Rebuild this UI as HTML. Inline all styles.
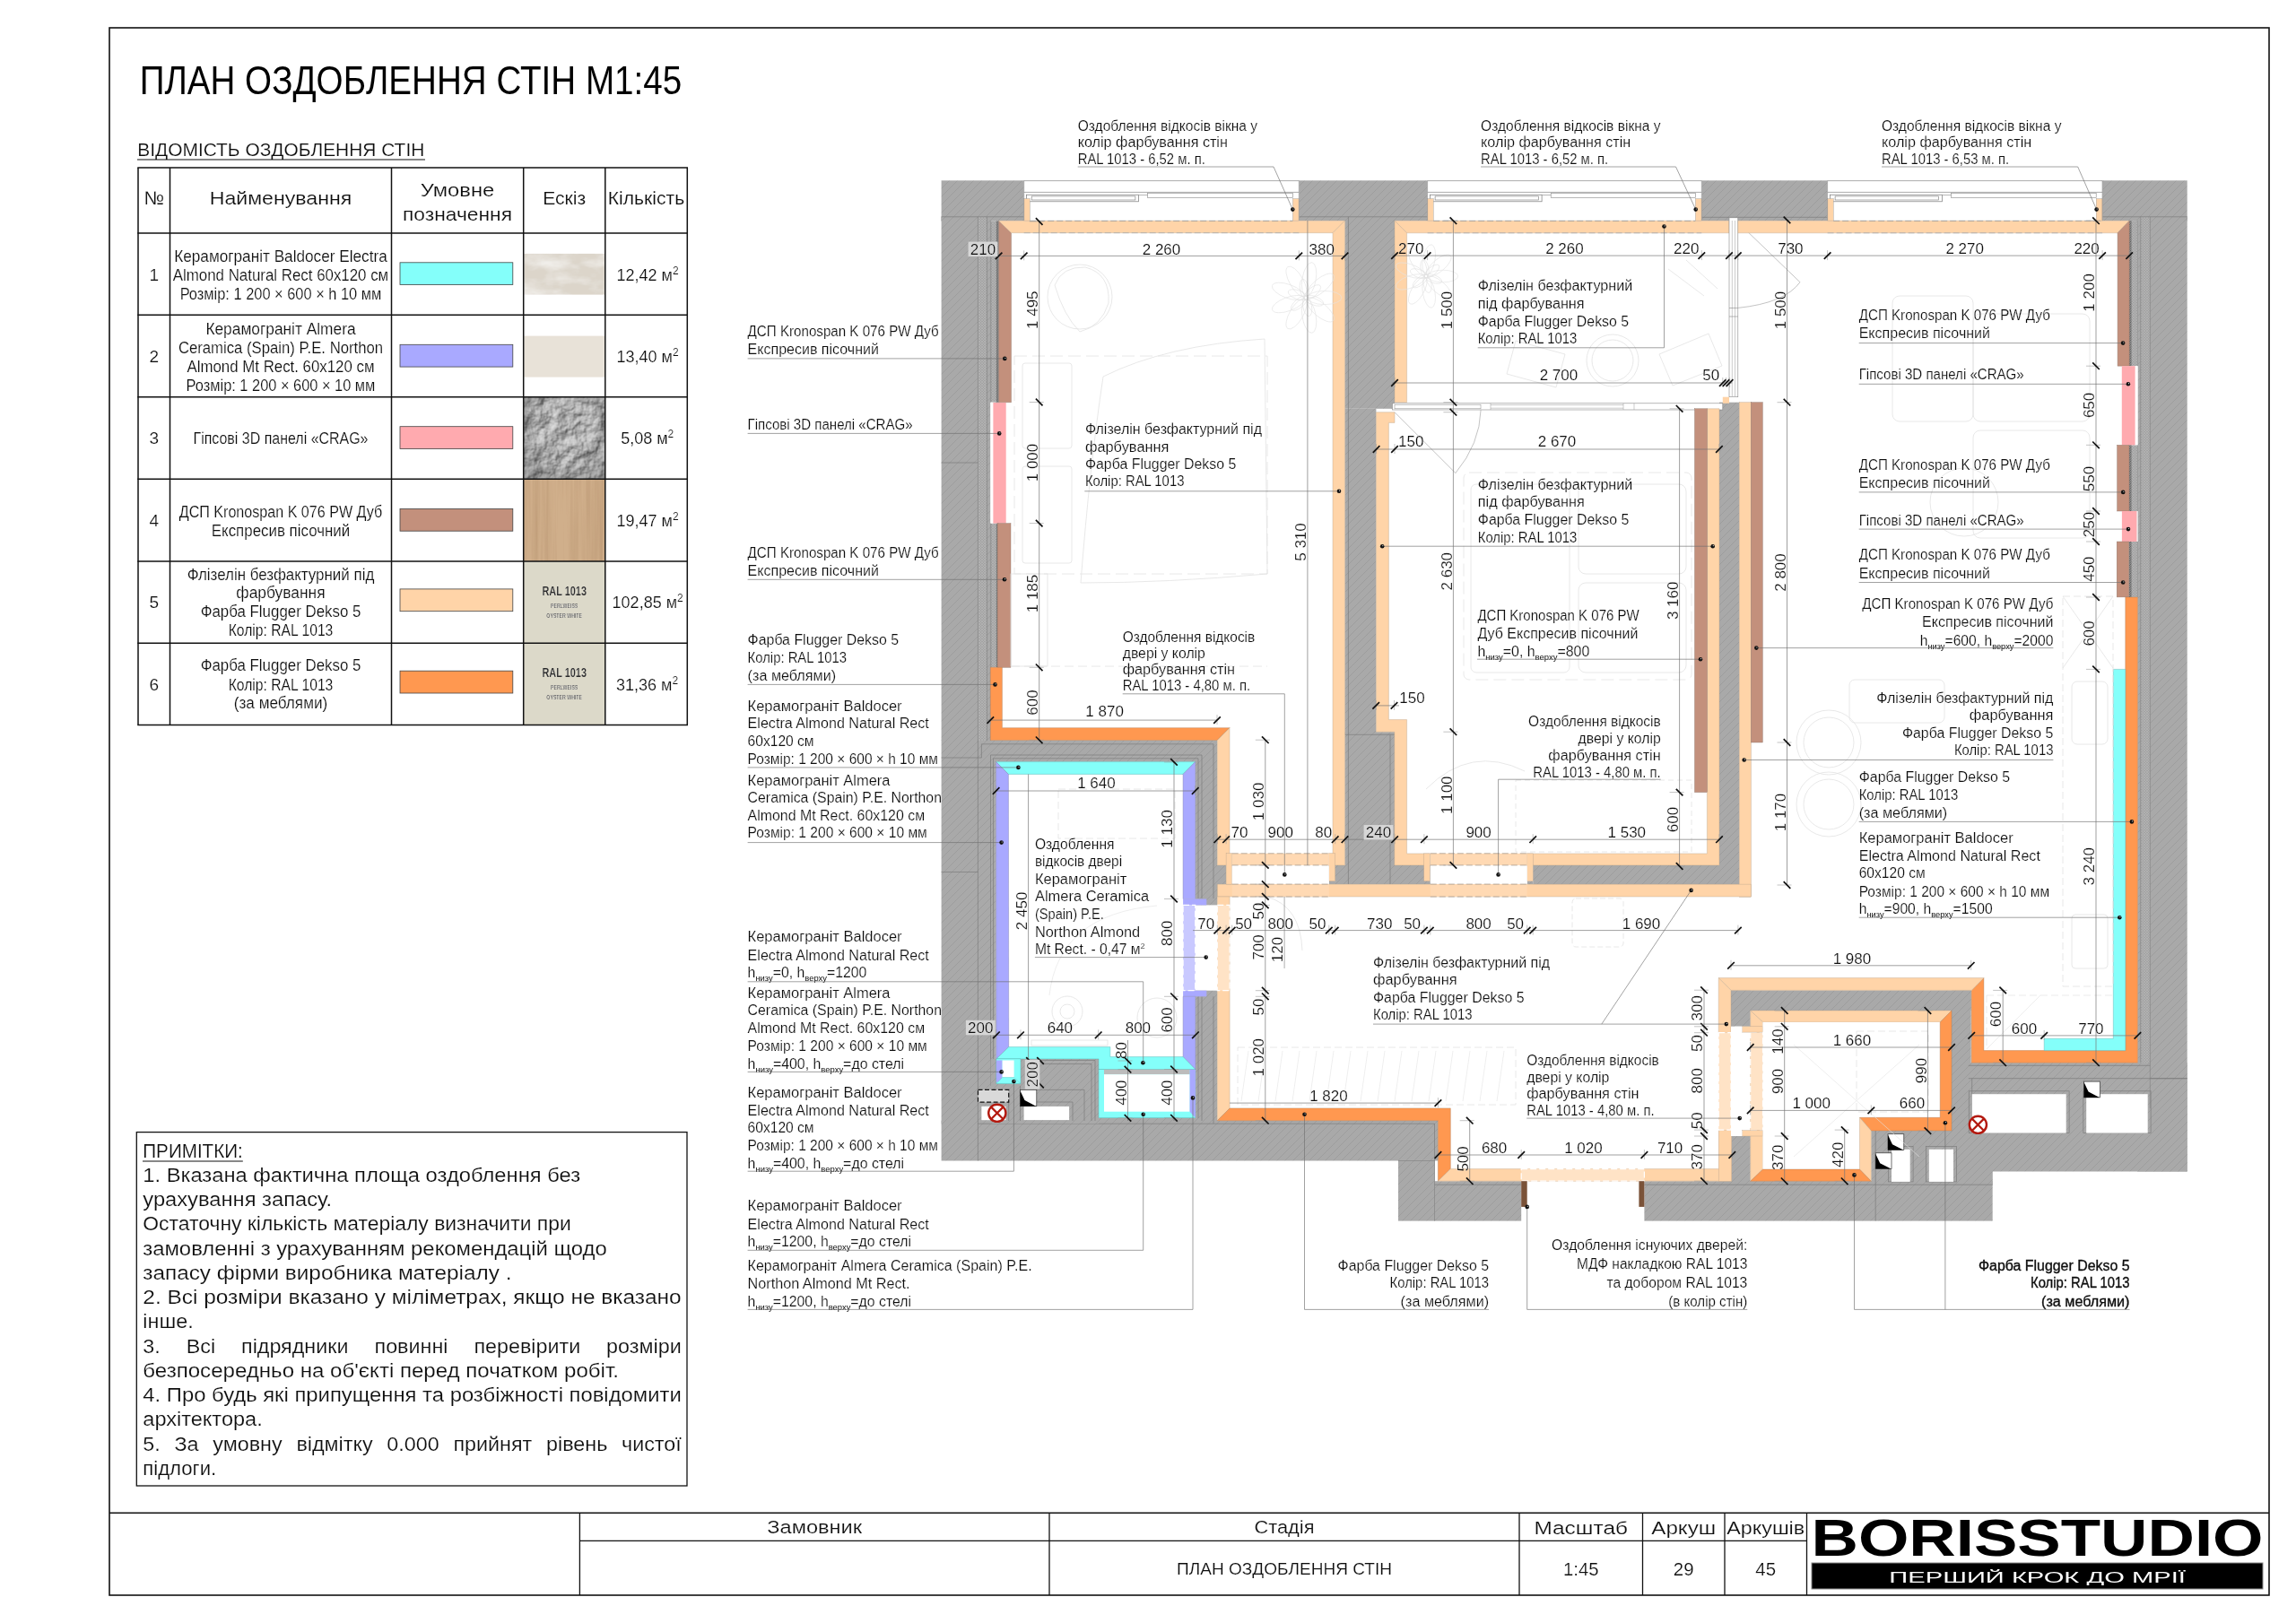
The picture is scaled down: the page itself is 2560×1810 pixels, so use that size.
<!DOCTYPE html>
<html><head><meta charset="utf-8"><title>plan</title>
<style>html,body{margin:0;padding:0;background:#fff}svg{display:block;will-change:transform}text{font-family:"Liberation Sans",sans-serif;stroke:#fff;stroke-width:.18px}.nt{stroke:none}</style>
</head><body>
<svg width="2560" height="1810" viewBox="0 0 2560 1810">
<defs>
<pattern id="hatch" width="9" height="9" patternUnits="userSpaceOnUse">
<rect width="9" height="9" fill="#a9a9a9"/>
<path d="M-1,10 L10,-1 M-1,1 L1,-1 M8,10 L10,8" stroke="#9d9d9d" stroke-width="1"/>
</pattern>
<pattern id="ins" width="3" height="3" patternUnits="userSpaceOnUse">
<rect width="3" height="3" fill="#b6b6b6"/><circle cx="1.5" cy="1.5" r="1" fill="none" stroke="#8f8f8f" stroke-width="0.5"/>
</pattern>
<pattern id="dk" width="2.5" height="2.5" patternUnits="userSpaceOnUse">
<rect width="2.5" height="2.5" fill="#8e8e8e"/><path d="M0,2.5 L2.5,0" stroke="#555" stroke-width="0.8"/>
</pattern>
<filter id="rock" x="0" y="0" width="100%" height="100%" color-interpolation-filters="sRGB">
<feTurbulence type="fractalNoise" baseFrequency="0.055" numOctaves="4" seed="9" result="n"/>
<feDiffuseLighting in="n" surfaceScale="3.4" lighting-color="#ffffff" result="l"><feDistantLight azimuth="225" elevation="52"/></feDiffuseLighting>
<feColorMatrix in="l" type="matrix" values="0.29 0.29 0.29 0 0  0.29 0.29 0.29 0 0  0.29 0.29 0.29 0 0  0 0 0 0 1"/>
</filter>
<radialGradient id="vig" cx="0.55" cy="0.4" r="0.75"><stop offset="0.45" stop-color="#000" stop-opacity="0"/><stop offset="1" stop-color="#000" stop-opacity="0.22"/></radialGradient>
<filter id="wood" x="0" y="0" width="100%" height="100%">
<feTurbulence type="fractalNoise" baseFrequency="0.22 0.006" numOctaves="3" seed="7" result="n"/>
<feColorMatrix in="n" type="matrix" values="0 0 0 0 0  0 0 0 0 0  0 0 0 0 0  0.9 0 0 0 -0.3" result="a"/>
<feFlood flood-color="#b08c66" result="c"/>
<feComposite in="c" in2="a" operator="in" result="g"/>
<feMerge><feMergeNode in="SourceGraphic"/><feMergeNode in="g"/></feMerge>
</filter>
<filter id="marble" x="0" y="0" width="100%" height="100%">
<feTurbulence type="fractalNoise" baseFrequency="0.03 0.06" numOctaves="4" seed="11" result="n"/>
<feColorMatrix in="n" type="matrix" values="0 0 0 0 1  0 0 0 0 1  0 0 0 0 1  1.1 0 0 0 -0.45" result="a"/>
<feMerge><feMergeNode in="SourceGraphic"/><feMergeNode in="a"/></feMerge>
</filter>
</defs>
<rect x="1049.6" y="201.3" width="92.1" height="44.9" fill="url(#hatch)" />
<rect x="1448.3" y="201.3" width="143.3" height="44.9" fill="url(#hatch)" />
<rect x="1897.3" y="201.3" width="140.3" height="44.9" fill="url(#hatch)" />
<rect x="2344.1" y="201.3" width="94.6" height="44.9" fill="url(#hatch)" />
<rect x="1049.6" y="241.8" width="64" height="4.7" fill="url(#hatch)" />
<rect x="2374" y="241.8" width="64.7" height="4.7" fill="url(#hatch)" />
<rect x="1049.6" y="241.8" width="55.4" height="584.2" fill="url(#hatch)" />
<rect x="2383.4" y="241.8" width="55.3" height="1064.7" fill="url(#hatch)" />
<rect x="1499.5" y="241.8" width="55.5" height="214" fill="url(#hatch)" />
<rect x="1499.5" y="455.8" width="34.9" height="363.5" fill="url(#hatch)" />
<rect x="1499.5" y="816.2" width="55.6" height="169.9" fill="url(#hatch)" />
<rect x="1481.8" y="964.9" width="113" height="21.2" fill="url(#hatch)" />
<rect x="1917" y="448.7" width="22.2" height="538.4" fill="url(#hatch)" />
<rect x="1587.7" y="982.7" width="7.1" height="3.4" fill="url(#hatch)" />
<rect x="1702.7" y="982.7" width="6.5" height="3.4" fill="url(#hatch)" />
<rect x="1709.2" y="964.9" width="230" height="22.2" fill="url(#hatch)" />
<rect x="1049.6" y="825.5" width="307.7" height="427.7" fill="url(#hatch)" />
<rect x="1353" y="964.9" width="14.1" height="21.2" fill="url(#hatch)" />
<rect x="1049.6" y="1249.7" width="553.8" height="44.8" fill="url(#hatch)" />
<rect x="1559" y="1294.5" width="40.5" height="67.1" fill="url(#hatch)" />
<rect x="1599.5" y="1317.2" width="96.7" height="44.4" fill="url(#hatch)" />
<rect x="1833.4" y="1317.2" width="388.3" height="44.4" fill="url(#hatch)" />
<rect x="1930.8" y="1266.2" width="17.5" height="54.9" fill="url(#hatch)" />
<rect x="1930" y="1104.4" width="267.7" height="22.6" fill="url(#hatch)" />
<rect x="2176" y="1104.4" width="21.7" height="159.7" fill="url(#hatch)" />
<rect x="1930" y="1104.4" width="21.7" height="40.4" fill="url(#hatch)" />
<rect x="1930" y="1267" width="21.7" height="54.2" fill="url(#hatch)" />
<rect x="2086.3" y="1261.1" width="135.5" height="60.1" fill="url(#hatch)" />
<rect x="2194.8" y="1185.2" width="243.9" height="121.3" fill="url(#hatch)" />
<rect x="1090.4" y="241.8" width="10.1" height="584.2" fill="url(#ins)" />
<line x1="1090.4" y1="241.8" x2="1090.4" y2="826" stroke="#7d7d7d" stroke-width="0.6" />
<line x1="1100.5" y1="241.8" x2="1100.5" y2="826" stroke="#7d7d7d" stroke-width="0.6" />
<rect x="2386.8" y="241.8" width="10.5" height="943.4" fill="url(#ins)" />
<line x1="2386.8" y1="241.8" x2="2386.8" y2="1185" stroke="#7d7d7d" stroke-width="0.6" />
<line x1="2397.3" y1="241.8" x2="2397.3" y2="1236" stroke="#7d7d7d" stroke-width="0.6" />
<rect x="1104.8" y="246.5" width="8.8" height="202.2" fill="url(#ins)" />
<rect x="1110.8" y="246.5" width="2.8" height="202.2" fill="url(#dk)" />
<line x1="1104.8" y1="246.5" x2="1104.8" y2="448.7" stroke="#7d7d7d" stroke-width="0.6" />
<rect x="1104.8" y="583.6" width="8.8" height="160.7" fill="url(#ins)" />
<rect x="1110.8" y="583.6" width="2.8" height="160.7" fill="url(#dk)" />
<line x1="1104.8" y1="583.6" x2="1104.8" y2="744.3" stroke="#7d7d7d" stroke-width="0.6" />
<rect x="1104.2" y="448.7" width="3.2" height="134.9" fill="#fff" />
<rect x="2374" y="246.2" width="9.4" height="162" fill="url(#ins)" />
<rect x="2374" y="246.2" width="2.6" height="162" fill="url(#dk)" />
<line x1="2383.4" y1="246.2" x2="2383.4" y2="408.2" stroke="#7d7d7d" stroke-width="0.6" />
<rect x="2374" y="496.3" width="9.4" height="73.7" fill="url(#ins)" />
<rect x="2374" y="496.3" width="2.6" height="73.7" fill="url(#dk)" />
<line x1="2383.4" y1="496.3" x2="2383.4" y2="570" stroke="#7d7d7d" stroke-width="0.6" />
<rect x="2374" y="604" width="9.4" height="61.9" fill="url(#ins)" />
<rect x="2374" y="604" width="2.6" height="61.9" fill="url(#dk)" />
<line x1="2383.4" y1="604" x2="2383.4" y2="665.9" stroke="#7d7d7d" stroke-width="0.6" />
<rect x="2380.5" y="408.2" width="3.1" height="88.1" fill="#fff" />
<rect x="2382" y="570" width="1.6" height="34" fill="#eee" />
<line x1="1049.6" y1="241.8" x2="1141.7" y2="241.8" stroke="#7d7d7d" stroke-width="0.7" />
<line x1="1049.6" y1="516" x2="1090.4" y2="516" stroke="#7d7d7d" stroke-width="0.7" />
<line x1="1049.6" y1="972.5" x2="1090.4" y2="972.5" stroke="#7d7d7d" stroke-width="0.7" />
<line x1="1090.4" y1="826" x2="1090.4" y2="1294.5" stroke="#7d7d7d" stroke-width="0.7" />
<line x1="1448.3" y1="241.8" x2="1591.6" y2="241.8" stroke="#7d7d7d" stroke-width="0.7" />
<line x1="1897.3" y1="242.3" x2="2037.6" y2="242.3" stroke="#7d7d7d" stroke-width="0.7" />
<line x1="2344.1" y1="241.8" x2="2438.7" y2="241.8" stroke="#7d7d7d" stroke-width="0.7" />
<line x1="1503.4" y1="241.8" x2="1503.4" y2="986" stroke="#7d7d7d" stroke-width="0.7" />
<line x1="1499.5" y1="819.3" x2="1555" y2="819.3" stroke="#7d7d7d" stroke-width="0.7" />
<line x1="1550" y1="819.3" x2="1550" y2="986" stroke="#7d7d7d" stroke-width="0.7" />
<line x1="2397.3" y1="1202.7" x2="2438.7" y2="1202.7" stroke="#7d7d7d" stroke-width="0.7" />
<line x1="1599.5" y1="1253" x2="1599.5" y2="1361.6" stroke="#7d7d7d" stroke-width="0.7" />
<line x1="1090.4" y1="1253.2" x2="1599.5" y2="1253.2" stroke="#7d7d7d" stroke-width="0.7" />
<line x1="1559" y1="1294.5" x2="1599.5" y2="1294.5" stroke="#7d7d7d" stroke-width="0.7" />
<line x1="2091.2" y1="1261" x2="2091.2" y2="1361.6" stroke="#7d7d7d" stroke-width="0.7" />
<line x1="1833.4" y1="1321.2" x2="2221.7" y2="1321.2" stroke="#7d7d7d" stroke-width="0.7" />
<line x1="1599.5" y1="1321.2" x2="1696.2" y2="1321.2" stroke="#7d7d7d" stroke-width="0.7" />
<line x1="2194.8" y1="1188.3" x2="2397.3" y2="1188.3" stroke="#7d7d7d" stroke-width="0.7" />
<line x1="2194.8" y1="1202.7" x2="2438.7" y2="1202.7" stroke="#7d7d7d" stroke-width="0.7" />
<line x1="2198.7" y1="1202.7" x2="2198.7" y2="1264" stroke="#7d7d7d" stroke-width="0.7" />
<rect x="1141.7" y="201.3" width="306.6" height="44.9" fill="#fff" />
<line x1="1141.7" y1="201.6" x2="1448.3" y2="201.6" stroke="#888" stroke-width="0.7" />
<line x1="1141.7" y1="214.4" x2="1448.3" y2="214.4" stroke="#888" stroke-width="0.7" />
<rect x="1144.5" y="217.2" width="125.1" height="7.6" fill="#fff" stroke="#777" stroke-width="0.7" />
<rect x="1150.2" y="218.9" width="115.7" height="4.1" fill="none" stroke="#777" stroke-width="0.6" />
<rect x="1279.7" y="215.5" width="161.7" height="5" fill="#fff" stroke="#888" stroke-width="0.6" />
<line x1="1269.6" y1="217.5" x2="1279.7" y2="217.5" stroke="#888" stroke-width="0.6" />
<rect x="1141.7" y="221.6" width="6.6" height="24.6" fill="#ffd4a8" stroke="#999" stroke-width="0.4" />
<rect x="1441.4" y="221.6" width="6.9" height="24.6" fill="#ffd4a8" stroke="#999" stroke-width="0.4" />
<line x1="1141.7" y1="201.3" x2="1141.7" y2="246" stroke="#888" stroke-width="0.6" />
<line x1="1448.3" y1="201.3" x2="1448.3" y2="246" stroke="#888" stroke-width="0.6" />
<rect x="1591.6" y="201.3" width="305.7" height="44.9" fill="#fff" />
<line x1="1591.6" y1="201.6" x2="1897.3" y2="201.6" stroke="#888" stroke-width="0.7" />
<line x1="1591.6" y1="214.4" x2="1897.3" y2="214.4" stroke="#888" stroke-width="0.7" />
<rect x="1594.4" y="217.2" width="124.7" height="7.6" fill="#fff" stroke="#777" stroke-width="0.7" />
<rect x="1600.1" y="218.9" width="115.3" height="4.1" fill="none" stroke="#777" stroke-width="0.6" />
<rect x="1729.2" y="215.5" width="161.2" height="5" fill="#fff" stroke="#888" stroke-width="0.6" />
<line x1="1719.1" y1="217.5" x2="1729.2" y2="217.5" stroke="#888" stroke-width="0.6" />
<rect x="1591.6" y="221.6" width="6.6" height="24.6" fill="#ffd4a8" stroke="#999" stroke-width="0.4" />
<rect x="1890.4" y="221.6" width="6.9" height="24.6" fill="#ffd4a8" stroke="#999" stroke-width="0.4" />
<line x1="1591.6" y1="201.3" x2="1591.6" y2="246" stroke="#888" stroke-width="0.6" />
<line x1="1897.3" y1="201.3" x2="1897.3" y2="246" stroke="#888" stroke-width="0.6" />
<rect x="2037.6" y="201.3" width="306.5" height="44.9" fill="#fff" />
<line x1="2037.6" y1="201.6" x2="2344.1" y2="201.6" stroke="#888" stroke-width="0.7" />
<line x1="2037.6" y1="214.4" x2="2344.1" y2="214.4" stroke="#888" stroke-width="0.7" />
<rect x="2040.4" y="217.2" width="125" height="7.6" fill="#fff" stroke="#777" stroke-width="0.7" />
<rect x="2046.1" y="218.9" width="115.6" height="4.1" fill="none" stroke="#777" stroke-width="0.6" />
<rect x="2175.5" y="215.5" width="161.7" height="5" fill="#fff" stroke="#888" stroke-width="0.6" />
<line x1="2165.4" y1="217.5" x2="2175.5" y2="217.5" stroke="#888" stroke-width="0.6" />
<rect x="2037.6" y="221.6" width="6.6" height="24.6" fill="#ffd4a8" stroke="#999" stroke-width="0.4" />
<rect x="2337.2" y="221.6" width="6.9" height="24.6" fill="#ffd4a8" stroke="#999" stroke-width="0.4" />
<line x1="2037.6" y1="201.3" x2="2037.6" y2="246" stroke="#888" stroke-width="0.6" />
<line x1="2344.1" y1="201.3" x2="2344.1" y2="246" stroke="#888" stroke-width="0.6" />
<polygon points="1113.6,246.2 1127.5,259.7 1127.5,448.7 1113.6,448.7" fill="#c3907c" stroke="#8d7468" stroke-width="0.4" />
<polygon points="1113.6,246.2 1499.5,246.2 1486,259.7 1127.5,259.7" fill="#ffd4a8" stroke="#b9a48c" stroke-width="0.4" />
<polygon points="1499.5,246.2 1499.5,964.9 1486,964.9 1486,259.7" fill="#ffd4a8" stroke="#b9a48c" stroke-width="0.4" />
<line x1="1148.2" y1="246.4" x2="1441.4" y2="246.4" stroke="#999" stroke-width="0.8" stroke-dasharray="7 3"/>
<line x1="1141.7" y1="259.7" x2="1448.3" y2="259.7" stroke="#aaa" stroke-width="0.8" stroke-dasharray="7 3"/>
<rect x="1107.4" y="449" width="14.3" height="134.6" fill="#ffaaaf" />
<rect x="1112.1" y="583.6" width="14.9" height="160.7" fill="#c3907c" stroke="#8d7468" stroke-width="0.4" />
<polygon points="1104.3,744.3 1117.4,744.3 1117.4,811.7 1371,811.7 1357.3,825.5 1104.3,825.5" fill="#ff9850" stroke="#a8744c" stroke-width="0.4" />
<line x1="1357.3" y1="825.5" x2="1371" y2="811.7" stroke="#a8744c" stroke-width="0.4" />
<polygon points="1371,811.7 1371,964.9 1357.3,964.9 1357.3,825.5" fill="#ffd4a8" stroke="#b9a48c" stroke-width="0.4" />
<polygon points="1555,246.2 1928,246.2 1928,259.8 1568.6,259.8" fill="#ffd4a8" stroke="#b9a48c" stroke-width="0.4" />
<polygon points="1555,246.2 1568.6,259.8 1568.6,448.7 1555,448.7" fill="#ffd4a8" stroke="#b9a48c" stroke-width="0.4" />
<line x1="1598.2" y1="246.4" x2="1890.4" y2="246.4" stroke="#999" stroke-width="0.8" stroke-dasharray="7 3"/>
<line x1="1591.6" y1="259.8" x2="1897.3" y2="259.8" stroke="#aaa" stroke-width="0.8" stroke-dasharray="7 3"/>
<rect x="1928" y="242.8" width="9.8" height="199.9" fill="#fff" stroke="#888" stroke-width="0.6" />
<line x1="1931.3" y1="246" x2="1931.3" y2="442" stroke="#999" stroke-width="0.5" />
<line x1="1934.5" y1="246" x2="1934.5" y2="442" stroke="#999" stroke-width="0.5" />
<line x1="1928" y1="343.5" x2="1937.8" y2="343.5" stroke="#888" stroke-width="0.6" />
<line x1="1928" y1="353" x2="1937.8" y2="353" stroke="#888" stroke-width="0.6" />
<rect x="1920.8" y="442.7" width="7.2" height="7.1" fill="#ffd4a8" />
<path d="M1937.8,248 L2007,314.7 Q1990,338 1937.8,343.4" fill="none" stroke="#9a9a9a" stroke-width="0.6"/>
<rect x="1552.4" y="449.8" width="368.4" height="7.2" fill="#fff" stroke="#888" stroke-width="0.6" />
<rect x="1555" y="451.2" width="96" height="4.6" fill="#fff" stroke="#888" stroke-width="0.5" />
<line x1="1662" y1="451.6" x2="1810" y2="451.6" stroke="#999" stroke-width="0.5" />
<line x1="1662" y1="455.2" x2="1810" y2="455.2" stroke="#999" stroke-width="0.5" />
<line x1="1662" y1="449.8" x2="1662" y2="457" stroke="#999" stroke-width="0.5" />
<line x1="1810" y1="449.8" x2="1810" y2="457" stroke="#999" stroke-width="0.5" />
<line x1="1822" y1="449.8" x2="1822" y2="457" stroke="#999" stroke-width="0.5" />
<path d="M1555,459.7 L1622.9,527.6 Q1650,495 1651.1,457.1" fill="none" stroke="#9a9a9a" stroke-width="0.6"/>
<polygon points="1534.4,459.7 1555,459.7 1555,471.4 1548.4,471.4 1548.4,802.6 1568.6,802.6 1568.6,951.9 1594.3,951.9 1594.3,964.9 1554.8,964.9 1554.8,816.2 1534.4,816.2" fill="#ffd4a8" stroke="#b9a48c" stroke-width="0.4" />
<polygon points="1702.7,951.9 1903.4,951.9 1903.4,455.8 1917,455.8 1917,964.9 1702.7,964.9" fill="#ffd4a8" stroke="#b9a48c" stroke-width="0.4" />
<rect x="1587.7" y="951.9" width="6.6" height="30.8" fill="#ffd4a8" stroke="#b9a48c" stroke-width="0.4" />
<rect x="1702.7" y="951.9" width="6.5" height="30.8" fill="#ffd4a8" stroke="#b9a48c" stroke-width="0.4" />
<rect x="1889.5" y="455.8" width="13.9" height="427.8" fill="#c3907c" stroke="#8d7468" stroke-width="0.4" />
<rect x="1939.2" y="448.7" width="13.1" height="551.5" fill="#ffd4a8" stroke="#b9a48c" stroke-width="0.4" />
<rect x="1952.3" y="448.7" width="13" height="379.3" fill="#c3907c" stroke="#8d7468" stroke-width="0.4" />
<rect x="1357.3" y="986.1" width="595" height="13.9" fill="#ffd4a8" stroke="#b9a48c" stroke-width="0.4" />
<rect x="1367.1" y="951.6" width="6.6" height="34.5" fill="#ffd4a8" stroke="#b9a48c" stroke-width="0.4" />
<rect x="1481.8" y="951.6" width="6.9" height="31.1" fill="#ffd4a8" stroke="#b9a48c" stroke-width="0.4" />
<rect x="1373.7" y="951.8" width="108.1" height="13.1" fill="#ffd9b3" />
<rect x="1373.7" y="986.1" width="108.1" height="13.9" fill="#ffd9b3" />
<rect x="1373.7" y="965.6" width="108.1" height="19.8" fill="#fff" />
<line x1="1373.7" y1="951.8" x2="1481.8" y2="951.8" stroke="#a79a8c" stroke-width="0.8" stroke-dasharray="7 3"/>
<line x1="1373.7" y1="964.9" x2="1481.8" y2="964.9" stroke="#a79a8c" stroke-width="0.8" stroke-dasharray="7 3"/>
<line x1="1373.7" y1="986.1" x2="1481.8" y2="986.1" stroke="#a79a8c" stroke-width="0.8" stroke-dasharray="7 3"/>
<line x1="1373.7" y1="1000" x2="1481.8" y2="1000" stroke="#a79a8c" stroke-width="0.8" stroke-dasharray="7 3"/>
<rect x="1594.8" y="951.8" width="107.9" height="13.1" fill="#ffd9b3" />
<rect x="1594.8" y="986.1" width="107.9" height="13.9" fill="#ffd9b3" />
<rect x="1594.8" y="965.6" width="107.9" height="19.8" fill="#fff" />
<line x1="1594.8" y1="951.8" x2="1702.7" y2="951.8" stroke="#a79a8c" stroke-width="0.8" stroke-dasharray="7 3"/>
<line x1="1594.8" y1="964.9" x2="1702.7" y2="964.9" stroke="#a79a8c" stroke-width="0.8" stroke-dasharray="7 3"/>
<line x1="1594.8" y1="986.1" x2="1702.7" y2="986.1" stroke="#a79a8c" stroke-width="0.8" stroke-dasharray="7 3"/>
<line x1="1594.8" y1="1000" x2="1702.7" y2="1000" stroke="#a79a8c" stroke-width="0.8" stroke-dasharray="7 3"/>
<line x1="1357.3" y1="986.1" x2="1357.3" y2="1000" stroke="#b9a48c" stroke-width="0.4" />
<polygon points="1357.3,1000 1371.1,1000 1371.1,1235.9 1357.3,1249.7" fill="#ffd4a8" stroke="#b9a48c" stroke-width="0.4" />
<rect x="1332.7" y="1009.4" width="24.6" height="95.3" fill="#fff" />
<rect x="1357.3" y="1009.4" width="13.8" height="95.3" fill="#ffe3c6" stroke="#fff" stroke-width="1.2" stroke-dasharray="7 3"/>
<polygon points="1371.1,1235.9 1617.3,1235.9 1617.3,1303.6 1603.4,1317.2 1603.4,1249.7 1357.3,1249.7" fill="#ff9850" stroke="#a8744c" stroke-width="0.4" />
<polygon points="1617.3,1303.6 1916.5,1303.6 1930.8,1317.2 1603.4,1317.2" fill="#ffd4a8" stroke="#b9a48c" stroke-width="0.4" />
<rect x="1696.2" y="1303.6" width="137.2" height="13.6" fill="#ffe3c6" stroke="#fff" stroke-width="1.2" stroke-dasharray="7 3"/>
<rect x="1696.2" y="1317.2" width="6.5" height="28.7" fill="#7a5238" />
<rect x="1827.4" y="1317.2" width="6" height="28.7" fill="#7a5238" />
<polygon points="1937.8,246.2 2374.2,246.2 2361.1,259.8 1937.8,259.8" fill="#ffd4a8" stroke="#b9a48c" stroke-width="0.4" />
<line x1="2044.2" y1="246.4" x2="2337.2" y2="246.4" stroke="#999" stroke-width="0.8" stroke-dasharray="7 3"/>
<line x1="2037.6" y1="259.8" x2="2344.1" y2="259.8" stroke="#aaa" stroke-width="0.8" stroke-dasharray="7 3"/>
<polygon points="2374.2,246.2 2374.2,408.2 2361.1,408.2 2361.1,259.8" fill="#c3907c" stroke="#8d7468" stroke-width="0.4" />
<rect x="2365.8" y="408.2" width="14.8" height="88.1" fill="#ffaaaf" />
<rect x="2360.6" y="496.3" width="13.4" height="73.7" fill="#c3907c" stroke="#8d7468" stroke-width="0.4" />
<rect x="2365.9" y="570" width="16.5" height="34" fill="#ffaaaf" />
<rect x="2360.2" y="604" width="13.6" height="61.9" fill="#c3907c" stroke="#8d7468" stroke-width="0.4" />
<polygon points="2369.8,665.9 2383.4,665.9 2383.4,1185.2 2198.2,1185.2 2198.2,1104.4 2211.9,1090.6 2211.9,1171.6 2369.8,1171.6" fill="#ff9850" stroke="#a8744c" stroke-width="0.4" />
<polygon points="2356.3,746.4 2369.8,746.4 2369.8,1171.6 2279.2,1171.6 2279.2,1158.3 2356.3,1158.3" fill="#84fffa" stroke="#5aa" stroke-width="0.4" />
<polygon points="1916.2,1090.6 2211.9,1090.6 2198.2,1104.4 1930,1104.4" fill="#ffd4a8" stroke="#b9a48c" stroke-width="0.4" />
<polygon points="1916.2,1090.6 1930,1104.4 1930,1151.7 1916.2,1151.7" fill="#ffd4a8" stroke="#b9a48c" stroke-width="0.4" />
<rect x="1916.2" y="1260.1" width="14.6" height="57.1" fill="#ffd4a8" stroke="#b9a48c" stroke-width="0.4" />
<rect x="1930" y="1144.8" width="21.7" height="122.2" fill="#fff" />
<rect x="1916.2" y="1151.7" width="13.8" height="108.4" fill="#ffe3c6" stroke="#fff" stroke-width="1.2" stroke-dasharray="7 3"/>
<polygon points="1951.7,1127 2176,1127 2163.2,1139.9 1965.5,1139.9" fill="#ffd4a8" stroke="#b9a48c" stroke-width="0.4" />
<polygon points="1951.7,1127 1965.5,1139.9 1965.5,1304.1 1951.7,1317.3" fill="#ffd4a8" stroke="#b9a48c" stroke-width="0.4" />
<rect x="1951.7" y="1151.1" width="13.8" height="109.6" fill="#ffe3c6" stroke="#fff" stroke-width="1.2" stroke-dasharray="7 3"/>
<rect x="1942.4" y="1144.8" width="23.1" height="6.3" fill="#ffd4a8" stroke="#b9a48c" stroke-width="0.4" />
<rect x="1942.4" y="1260.7" width="23.1" height="6.3" fill="#ffd4a8" stroke="#b9a48c" stroke-width="0.4" />
<rect x="1934" y="1144.8" width="8.4" height="6.3" fill="#fff" />
<rect x="1934" y="1260.7" width="8.4" height="6.3" fill="#fff" />
<rect x="1965.5" y="1139.9" width="197.7" height="106.4" fill="#fff" />
<rect x="1965.5" y="1246.3" width="108" height="57.8" fill="#fff" />
<polygon points="2176,1127 2176,1261.1 2086.3,1261.1 2073.5,1246.3 2163.2,1246.3 2163.2,1139.9" fill="#ff9850" stroke="#a8744c" stroke-width="0.4" />
<polygon points="2073.5,1246.3 2086.3,1261.1 2086.3,1317.3 2073.5,1304.1" fill="#ffd4a8" stroke="#b9a48c" stroke-width="0.4" />
<polygon points="1965.5,1304.1 2073.5,1304.1 2086.3,1317.3 1951.7,1317.3" fill="#ff9850" stroke="#a8744c" stroke-width="0.4" />
<rect x="2105.6" y="1278.4" width="27.5" height="39.5" fill="none" stroke="#7d7d7d" stroke-width="0.7" />
<rect x="2109" y="1281.8" width="20.7" height="36.1" fill="#fff" />
<rect x="2147.4" y="1278.4" width="34" height="39.5" fill="none" stroke="#7d7d7d" stroke-width="0.7" />
<rect x="2150.8" y="1281.8" width="27.2" height="36.1" fill="#fff" />
<rect x="2195.3" y="1216.8" width="111.8" height="46.8" fill="none" stroke="#7d7d7d" stroke-width="0.7" />
<rect x="2198.7" y="1220.2" width="105" height="43.4" fill="#fff" />
<rect x="2322.8" y="1216.8" width="75.3" height="46.8" fill="none" stroke="#7d7d7d" stroke-width="0.7" />
<rect x="2326.2" y="1220.2" width="68.5" height="43.4" fill="#fff" />
<rect x="2105" y="1264.7" width="17.8" height="17.8" fill="#fff" stroke="#333" stroke-width="0.7" />
<polygon points="2105,1265.7 2110,1276.2 2122.3,1282.5 2105,1282.5" fill="#000" />
<rect x="2091.2" y="1285.8" width="17.8" height="17.8" fill="#fff" stroke="#333" stroke-width="0.7" />
<polygon points="2091.2,1286.8 2096.2,1297.3 2108.5,1303.6 2091.2,1303.6" fill="#000" />
<rect x="2323.6" y="1206.1" width="17.8" height="17.8" fill="#fff" stroke="#333" stroke-width="0.7" />
<polygon points="2323.6,1207.1 2328.6,1217.6 2340.9,1223.9 2323.6,1223.9" fill="#000" />
<rect x="1137.5" y="1215.4" width="18.3" height="18.3" fill="#fff" stroke="#333" stroke-width="0.7" />
<polygon points="1137.5,1216.4 1142.5,1226.9 1155.3,1233.7 1137.5,1233.7" fill="#000" />
<circle cx="2205.4" cy="1254.3" r="9.6" fill="#fff" stroke="#b3190f" stroke-width="2.4"/>
<line x1="2199" y1="1247.9" x2="2211.8" y2="1260.7" stroke="#b3190f" stroke-width="2.2" />
<line x1="2199" y1="1260.7" x2="2211.8" y2="1247.9" stroke="#b3190f" stroke-width="2.2" />
<rect x="1094.6" y="1233.9" width="26.9" height="15.2" fill="#fff" />
<circle cx="1111.8" cy="1241.3" r="9.6" fill="#fff" stroke="#b3190f" stroke-width="2.4"/>
<line x1="1105.4" y1="1234.9" x2="1118.2" y2="1247.7" stroke="#b3190f" stroke-width="2.2" />
<line x1="1105.4" y1="1247.7" x2="1118.2" y2="1234.9" stroke="#b3190f" stroke-width="2.2" />
<rect x="1110.6" y="849.6" width="222.1" height="342.9" fill="#fff" />
<line x1="1094.4" y1="829.8" x2="1353" y2="829.8" stroke="#7d7d7d" stroke-width="0.7" />
<line x1="1104.5" y1="842" x2="1340" y2="842" stroke="#7d7d7d" stroke-width="0.7" />
<line x1="1107.5" y1="845.8" x2="1336" y2="845.8" stroke="#7d7d7d" stroke-width="0.7" />
<line x1="1104.5" y1="842" x2="1104.5" y2="1211" stroke="#7d7d7d" stroke-width="0.7" />
<line x1="1107.5" y1="845.8" x2="1107.5" y2="1209" stroke="#7d7d7d" stroke-width="0.7" />
<line x1="1340" y1="842" x2="1340" y2="1002" stroke="#7d7d7d" stroke-width="0.7" />
<line x1="1336" y1="845.8" x2="1336" y2="1002" stroke="#7d7d7d" stroke-width="0.7" />
<line x1="1353" y1="829.8" x2="1353" y2="1002" stroke="#7d7d7d" stroke-width="0.7" />
<line x1="1094.4" y1="829.8" x2="1094.4" y2="845" stroke="#7d7d7d" stroke-width="0.7" />
<line x1="1049.6" y1="845" x2="1094.4" y2="845" stroke="#7d7d7d" stroke-width="0.7" />
<line x1="1340" y1="1111.3" x2="1340" y2="1250" stroke="#7d7d7d" stroke-width="0.7" />
<line x1="1336" y1="1111.3" x2="1336" y2="1247" stroke="#7d7d7d" stroke-width="0.7" />
<line x1="1353" y1="1111.3" x2="1353" y2="1253" stroke="#7d7d7d" stroke-width="0.7" />
<polygon points="1110.6,849.6 1332.7,849.6 1319.1,863.4 1124.4,863.4" fill="#84fffa" stroke="#5aa" stroke-width="0.4" />
<polygon points="1110.6,849.6 1124.4,863.4 1124.7,1167.6 1110.9,1180.9" fill="#a9a9ff" stroke="#77a" stroke-width="0.4" />
<polygon points="1332.7,849.6 1332.7,1002.5 1319.1,1002.5 1319.1,863.4" fill="#a9a9ff" stroke="#77a" stroke-width="0.4" />
<rect x="1319.1" y="1002.5" width="26.2" height="6.9" fill="#a9a9ff" />
<rect x="1319.1" y="1104.7" width="26.2" height="6.6" fill="#a9a9ff" />
<rect x="1319.1" y="1009.4" width="13.6" height="95.3" fill="#c9c9ff" stroke="#fff" stroke-width="1.2" stroke-dasharray="7 3"/>
<polygon points="1319.1,1111.3 1332.7,1111.3 1332.9,1192.7 1319.1,1178.6" fill="#a9a9ff" stroke="#77a" stroke-width="0.4" />
<rect x="1104.5" y="1180.9" width="120.5" height="72.3" fill="url(#hatch)" />
<line x1="1159.2" y1="1182.5" x2="1221" y2="1182.5" stroke="#7d7d7d" stroke-width="0.7" />
<line x1="1221" y1="1182.5" x2="1221" y2="1250" stroke="#7d7d7d" stroke-width="0.7" />
<line x1="1163" y1="1186.5" x2="1217" y2="1186.5" stroke="#7d7d7d" stroke-width="0.7" />
<line x1="1217" y1="1186.5" x2="1217" y2="1250" stroke="#7d7d7d" stroke-width="0.7" />
<line x1="1156" y1="1215.4" x2="1209" y2="1215.4" stroke="#7d7d7d" stroke-width="0.7" />
<line x1="1209" y1="1215.4" x2="1209" y2="1250" stroke="#7d7d7d" stroke-width="0.7" />
<line x1="1156" y1="1229" x2="1196" y2="1229" stroke="#7d7d7d" stroke-width="0.7" />
<line x1="1196" y1="1229" x2="1196" y2="1250" stroke="#7d7d7d" stroke-width="0.7" />
<line x1="1137.5" y1="1211" x2="1137.5" y2="1250" stroke="#7d7d7d" stroke-width="0.7" />
<line x1="1124.7" y1="1229.1" x2="1124.7" y2="1250" stroke="#7d7d7d" stroke-width="0.7" />
<polygon points="1124.7,1167.6 1237.9,1167.6 1237.9,1178.6 1319.1,1178.6 1332.9,1192.7 1225,1192.7 1225,1180.9 1110.9,1180.9" fill="#84fffa" stroke="#5aa" stroke-width="0.4" />
<rect x="1110.9" y="1180.9" width="27.1" height="27.5" fill="#84fffa" stroke="#5aa" stroke-width="0.4" />
<rect x="1110.9" y="1182.5" width="6.7" height="24.3" fill="#a9a9ff" />
<rect x="1117.6" y="1182.5" width="13" height="19.1" fill="#fff" />
<polygon points="1117.6,1201.6 1130.6,1201.6 1138,1208.4 1110.9,1208.4" fill="#84fffa" stroke="#5aa" stroke-width="0.3" />
<rect x="1225" y="1192.7" width="107.9" height="54.1" fill="#84fffa" stroke="#5aa" stroke-width="0.4" />
<rect x="1231" y="1192.7" width="95.6" height="5.5" fill="#bcbcbc" />
<rect x="1231" y="1198.2" width="95.6" height="41.5" fill="#fff" />
<polygon points="1326.6,1192.7 1332.9,1192.7 1332.9,1246.8 1326.6,1239.7" fill="#a9a9ff" />
<rect x="1090.5" y="1215.4" width="34.2" height="13.7" fill="#d9d9d9" stroke="#111" stroke-width="1.2" stroke-dasharray="5 2.5"/>
<rect x="1141.6" y="1233.9" width="50.5" height="15.2" fill="#fff" />
<rect x="1137.5" y="1215.4" width="18.3" height="18.3" fill="#fff" stroke="#333" stroke-width="0.7" />
<polygon points="1137.5,1216.4 1142.5,1226.9 1155.3,1233.7 1137.5,1233.7" fill="#000" />
<rect x="1094.6" y="1233.9" width="26.9" height="15.2" fill="#fff" />
<circle cx="1111.8" cy="1241.3" r="9.6" fill="#fff" stroke="#b3190f" stroke-width="2.4"/>
<line x1="1105.4" y1="1234.9" x2="1118.2" y2="1247.7" stroke="#b3190f" stroke-width="2.2" />
<line x1="1105.4" y1="1247.7" x2="1118.2" y2="1234.9" stroke="#b3190f" stroke-width="2.2" />
<circle cx="1204" cy="331" r="36" fill="none" stroke="#e2e2e2" stroke-width="0.8"/>
<path d="M1176,318 Q1184,297 1210,298 Q1238,305 1236,338 Q1228,364 1204,370 Q1186,352 1176,318 Z" fill="none" stroke="#e2e2e2" stroke-width="0.8"/>
<ellipse cx="1476.9" cy="332" rx="19" ry="7.6" transform="rotate(0 1476.9 332)" fill="none" stroke="#e2e2e2" stroke-width="0.6"/>
<ellipse cx="1472" cy="345.4" rx="19" ry="7.6" transform="rotate(40 1472 345.4)" fill="none" stroke="#e2e2e2" stroke-width="0.6"/>
<ellipse cx="1459.6" cy="352.6" rx="19" ry="7.6" transform="rotate(80 1459.6 352.6)" fill="none" stroke="#e2e2e2" stroke-width="0.6"/>
<ellipse cx="1445.5" cy="350.1" rx="19" ry="7.6" transform="rotate(120 1445.5 350.1)" fill="none" stroke="#e2e2e2" stroke-width="0.6"/>
<ellipse cx="1436.4" cy="339.1" rx="19" ry="7.6" transform="rotate(160 1436.4 339.1)" fill="none" stroke="#e2e2e2" stroke-width="0.6"/>
<ellipse cx="1436.4" cy="324.9" rx="19" ry="7.6" transform="rotate(200 1436.4 324.9)" fill="none" stroke="#e2e2e2" stroke-width="0.6"/>
<ellipse cx="1445.5" cy="313.9" rx="19" ry="7.6" transform="rotate(240 1445.5 313.9)" fill="none" stroke="#e2e2e2" stroke-width="0.6"/>
<ellipse cx="1459.6" cy="311.4" rx="19" ry="7.6" transform="rotate(280 1459.6 311.4)" fill="none" stroke="#e2e2e2" stroke-width="0.6"/>
<ellipse cx="1472" cy="318.6" rx="19" ry="7.6" transform="rotate(320 1472 318.6)" fill="none" stroke="#e2e2e2" stroke-width="0.6"/>
<ellipse cx="1464.9" cy="335.2" rx="11.4" ry="4.9" transform="rotate(20 1464.9 335.2)" fill="none" stroke="#e2e2e2" stroke-width="0.6"/>
<ellipse cx="1457.6" cy="341.4" rx="11.4" ry="4.9" transform="rotate(80 1457.6 341.4)" fill="none" stroke="#e2e2e2" stroke-width="0.6"/>
<ellipse cx="1448.7" cy="338.1" rx="11.4" ry="4.9" transform="rotate(140 1448.7 338.1)" fill="none" stroke="#e2e2e2" stroke-width="0.6"/>
<ellipse cx="1447.1" cy="328.8" rx="11.4" ry="4.9" transform="rotate(200 1447.1 328.8)" fill="none" stroke="#e2e2e2" stroke-width="0.6"/>
<ellipse cx="1454.4" cy="322.6" rx="11.4" ry="4.9" transform="rotate(260 1454.4 322.6)" fill="none" stroke="#e2e2e2" stroke-width="0.6"/>
<ellipse cx="1463.3" cy="325.9" rx="11.4" ry="4.9" transform="rotate(320 1463.3 325.9)" fill="none" stroke="#e2e2e2" stroke-width="0.6"/>
<ellipse cx="1608.7" cy="308" rx="17" ry="6.8" transform="rotate(0 1608.7 308)" fill="none" stroke="#e2e2e2" stroke-width="0.6"/>
<ellipse cx="1604.3" cy="320" rx="17" ry="6.8" transform="rotate(40 1604.3 320)" fill="none" stroke="#e2e2e2" stroke-width="0.6"/>
<ellipse cx="1593.2" cy="326.4" rx="17" ry="6.8" transform="rotate(80 1593.2 326.4)" fill="none" stroke="#e2e2e2" stroke-width="0.6"/>
<ellipse cx="1580.7" cy="324.2" rx="17" ry="6.8" transform="rotate(120 1580.7 324.2)" fill="none" stroke="#e2e2e2" stroke-width="0.6"/>
<ellipse cx="1572.4" cy="314.4" rx="17" ry="6.8" transform="rotate(160 1572.4 314.4)" fill="none" stroke="#e2e2e2" stroke-width="0.6"/>
<ellipse cx="1572.4" cy="301.6" rx="17" ry="6.8" transform="rotate(200 1572.4 301.6)" fill="none" stroke="#e2e2e2" stroke-width="0.6"/>
<ellipse cx="1580.7" cy="291.8" rx="17" ry="6.8" transform="rotate(240 1580.7 291.8)" fill="none" stroke="#e2e2e2" stroke-width="0.6"/>
<ellipse cx="1593.2" cy="289.6" rx="17" ry="6.8" transform="rotate(280 1593.2 289.6)" fill="none" stroke="#e2e2e2" stroke-width="0.6"/>
<ellipse cx="1604.3" cy="296" rx="17" ry="6.8" transform="rotate(320 1604.3 296)" fill="none" stroke="#e2e2e2" stroke-width="0.6"/>
<ellipse cx="1598" cy="310.9" rx="10.2" ry="4.4" transform="rotate(20 1598 310.9)" fill="none" stroke="#e2e2e2" stroke-width="0.6"/>
<ellipse cx="1591.5" cy="316.4" rx="10.2" ry="4.4" transform="rotate(80 1591.5 316.4)" fill="none" stroke="#e2e2e2" stroke-width="0.6"/>
<ellipse cx="1583.5" cy="313.5" rx="10.2" ry="4.4" transform="rotate(140 1583.5 313.5)" fill="none" stroke="#e2e2e2" stroke-width="0.6"/>
<ellipse cx="1582" cy="305.1" rx="10.2" ry="4.4" transform="rotate(200 1582 305.1)" fill="none" stroke="#e2e2e2" stroke-width="0.6"/>
<ellipse cx="1588.5" cy="299.6" rx="10.2" ry="4.4" transform="rotate(260 1588.5 299.6)" fill="none" stroke="#e2e2e2" stroke-width="0.6"/>
<ellipse cx="1596.5" cy="302.5" rx="10.2" ry="4.4" transform="rotate(320 1596.5 302.5)" fill="none" stroke="#e2e2e2" stroke-width="0.6"/>
<rect x="1131" y="397" width="282" height="243" rx="0" fill="none" stroke="#e2e2e2" stroke-width="0.8" stroke-dasharray="14 6"/>
<rect x="1140" y="405" width="55" height="95" rx="3" fill="none" stroke="#e2e2e2" stroke-width="0.8"/>
<rect x="1140" y="520" width="55" height="108" rx="3" fill="none" stroke="#e2e2e2" stroke-width="0.8"/>
<path d="M1230,420 Q1300,385 1410,378 L1413,640 Q1300,650 1205,650 Q1215,520 1230,420 Z" fill="none" stroke="#e2e2e2" stroke-width="0.8"/>
<path d="M1127,743 L1413,743" fill="none" stroke="#e2e2e2" stroke-width="0.8" stroke-dasharray="10 5"/>
<rect x="1127" y="640" width="41" height="103" rx="0" fill="none" stroke="#e2e2e2" stroke-width="0.8"/>
<circle cx="1798" cy="402" r="29" fill="none" stroke="#e2e2e2" stroke-width="0.8"/>
<circle cx="1798" cy="402" r="23" fill="none" stroke="#e2e2e2" stroke-width="0.8"/>
<path d="M1690,380 L1745,395 L1735,432 L1680,417 Z M1850,395 L1905,372 L1920,408 L1865,430 Z" fill="none" stroke="#e2e2e2" stroke-width="0.8"/>
<path d="M1860,300 L1900,330 M1880,290 L1915,322" fill="none" stroke="#e2e2e2" stroke-width="0.8"/>
<rect x="1632" y="527" width="254" height="231" rx="6" fill="none" stroke="#e2e2e2" stroke-width="0.8" stroke-dasharray="14 6"/>
<rect x="1760" y="540" width="120" height="100" rx="8" fill="none" stroke="#e2e2e2" stroke-width="0.8"/>
<rect x="1760" y="650" width="120" height="100" rx="8" fill="none" stroke="#e2e2e2" stroke-width="0.8"/>
<rect x="1640" y="540" width="110" height="210" rx="6" fill="none" stroke="#e2e2e2" stroke-width="0.8"/>
<path d="M1590,880 Q1640,830 1700,860" fill="none" stroke="#e2e2e2" stroke-width="0.8"/>
<rect x="1690" y="870" width="196" height="80" rx="0" fill="none" stroke="#e2e2e2" stroke-width="0.8" stroke-dasharray="6 4"/>
<circle cx="2039" cy="828" r="36" fill="none" stroke="#e2e2e2" stroke-width="0.8"/>
<circle cx="2039" cy="828" r="28" fill="none" stroke="#e2e2e2" stroke-width="0.8"/>
<circle cx="2039" cy="897" r="36" fill="none" stroke="#e2e2e2" stroke-width="0.8"/>
<circle cx="2039" cy="897" r="28" fill="none" stroke="#e2e2e2" stroke-width="0.8"/>
<rect x="2062" y="758" width="106" height="48" rx="6" fill="none" stroke="#e2e2e2" stroke-width="0.8"/>
<rect x="2200" y="350" width="130" height="120" rx="8" fill="none" stroke="#e2e2e2" stroke-width="0.8"/>
<rect x="2110" y="330" width="90" height="140" rx="8" fill="none" stroke="#e2e2e2" stroke-width="0.8"/>
<rect x="2200" y="480" width="130" height="120" rx="8" fill="none" stroke="#e2e2e2" stroke-width="0.8"/>
<circle cx="2190" cy="560" r="38" fill="none" stroke="#e2e2e2" stroke-width="0.8"/>
<rect x="2300" y="665" width="56" height="435" rx="0" fill="none" stroke="#e2e2e2" stroke-width="0.8" stroke-dasharray="8 4"/>
<path d="M2300,665 L2356,745 M2356,665 L2300,745" fill="none" stroke="#e2e2e2" stroke-width="0.8"/>
<rect x="2310" y="760" width="40" height="70" rx="6" fill="none" stroke="#e2e2e2" stroke-width="0.8"/>
<rect x="2310" y="1020" width="40" height="60" rx="4" fill="none" stroke="#e2e2e2" stroke-width="0.8"/>
<rect x="1380" y="1168" width="310" height="64" rx="0" fill="none" stroke="#e2e2e2" stroke-width="0.8" stroke-dasharray="8 4"/>
<path d="M1392,1172 L1384,1228" fill="none" stroke="#e2e2e2" stroke-width="0.6"/>
<path d="M1411,1172 L1403,1228" fill="none" stroke="#e2e2e2" stroke-width="0.6"/>
<path d="M1430,1172 L1422,1228" fill="none" stroke="#e2e2e2" stroke-width="0.6"/>
<path d="M1449,1172 L1441,1228" fill="none" stroke="#e2e2e2" stroke-width="0.6"/>
<path d="M1468,1172 L1460,1228" fill="none" stroke="#e2e2e2" stroke-width="0.6"/>
<path d="M1487,1172 L1479,1228" fill="none" stroke="#e2e2e2" stroke-width="0.6"/>
<path d="M1506,1172 L1498,1228" fill="none" stroke="#e2e2e2" stroke-width="0.6"/>
<path d="M1525,1172 L1517,1228" fill="none" stroke="#e2e2e2" stroke-width="0.6"/>
<path d="M1544,1172 L1536,1228" fill="none" stroke="#e2e2e2" stroke-width="0.6"/>
<path d="M1563,1172 L1555,1228" fill="none" stroke="#e2e2e2" stroke-width="0.6"/>
<path d="M1582,1172 L1574,1228" fill="none" stroke="#e2e2e2" stroke-width="0.6"/>
<path d="M1601,1172 L1593,1228" fill="none" stroke="#e2e2e2" stroke-width="0.6"/>
<path d="M1620,1172 L1612,1228" fill="none" stroke="#e2e2e2" stroke-width="0.6"/>
<path d="M1639,1172 L1631,1228" fill="none" stroke="#e2e2e2" stroke-width="0.6"/>
<path d="M1658,1172 L1650,1228" fill="none" stroke="#e2e2e2" stroke-width="0.6"/>
<path d="M1677,1172 L1669,1228" fill="none" stroke="#e2e2e2" stroke-width="0.6"/>
<rect x="1753" y="1002" width="57" height="54" rx="4" fill="none" stroke="#e2e2e2" stroke-width="0.8" stroke-dasharray="6 3"/>
<path d="M1412,1000 Q1450,1010 1452,1060" fill="none" stroke="#e2e2e2" stroke-width="0.8"/>
<path d="M1290,1010 Q1180,1020 1170,1110" fill="none" stroke="#e2e2e2" stroke-width="0.6"/>
<circle cx="1190" cy="1128" r="17" fill="none" stroke="#e2e2e2" stroke-width="0.8"/>
<circle cx="1190" cy="1128" r="8" fill="none" stroke="#e2e2e2" stroke-width="0.8"/>
<circle cx="1290" cy="1135" r="22" fill="none" stroke="#e2e2e2" stroke-width="0.8"/>
<rect x="1150" y="1160" width="85" height="6" rx="0" fill="none" stroke="#e2e2e2" stroke-width="0.8"/>
<rect x="1180" y="880" width="130" height="55" rx="0" fill="none" stroke="#e2e2e2" stroke-width="0.8" stroke-dasharray="8 4"/>
<path d="M2000,1165 L2140,1290 M2140,1165 L2000,1290" fill="none" stroke="#e2e2e2" stroke-width="0.6"/>
<rect x="2070" y="1150" width="80" height="90" rx="0" fill="none" stroke="#e2e2e2" stroke-width="0.8" stroke-dasharray="8 4"/>
<path d="M2215,1110 L2355,1110 M2215,1110 L2215,1170" fill="none" stroke="#e2e2e2" stroke-width="0.7" stroke-dasharray="8 4"/>
<path d="M2215,1170 L2275,1110" fill="none" stroke="#e2e2e2" stroke-width="0.6"/>
<line x1="1113.6" y1="285.4" x2="1499.5" y2="285.4" stroke="#777" stroke-width="0.7" />
<line x1="1113.6" y1="279.4" x2="1113.6" y2="290.4" stroke="#9a9a9a" stroke-width="0.6" />
<line x1="1109.8" y1="289.2" x2="1117.4" y2="281.6" stroke="#111" stroke-width="1.7" />
<line x1="1141.7" y1="279.4" x2="1141.7" y2="290.4" stroke="#9a9a9a" stroke-width="0.6" />
<line x1="1137.9" y1="289.2" x2="1145.5" y2="281.6" stroke="#111" stroke-width="1.7" />
<line x1="1448.3" y1="279.4" x2="1448.3" y2="290.4" stroke="#9a9a9a" stroke-width="0.6" />
<line x1="1444.5" y1="289.2" x2="1452.1" y2="281.6" stroke="#111" stroke-width="1.7" />
<line x1="1499.5" y1="279.4" x2="1499.5" y2="290.4" stroke="#9a9a9a" stroke-width="0.6" />
<line x1="1495.7" y1="289.2" x2="1503.3" y2="281.6" stroke="#111" stroke-width="1.7" />
<rect x="1079.6" y="269.6" width="32.8" height="16.5" fill="#d6d6d6" />
<text x="1096" y="283.6" font-size="17" fill="#0d0d0d" text-anchor="middle" >210</text>
<text x="1295" y="283.6" font-size="17" fill="#0d0d0d" text-anchor="middle" >2 260</text>
<text x="1473.7" y="283.6" font-size="17" fill="#0d0d0d" text-anchor="middle" >380</text>
<line x1="1552.4" y1="285.1" x2="2374.2" y2="285.1" stroke="#777" stroke-width="0.7" />
<line x1="1555" y1="279.1" x2="1555" y2="290.1" stroke="#9a9a9a" stroke-width="0.6" />
<line x1="1551.2" y1="288.9" x2="1558.8" y2="281.3" stroke="#111" stroke-width="1.7" />
<line x1="1591.6" y1="279.1" x2="1591.6" y2="290.1" stroke="#9a9a9a" stroke-width="0.6" />
<line x1="1587.8" y1="288.9" x2="1595.4" y2="281.3" stroke="#111" stroke-width="1.7" />
<line x1="1897.3" y1="279.1" x2="1897.3" y2="290.1" stroke="#9a9a9a" stroke-width="0.6" />
<line x1="1893.5" y1="288.9" x2="1901.1" y2="281.3" stroke="#111" stroke-width="1.7" />
<line x1="1928" y1="279.1" x2="1928" y2="290.1" stroke="#9a9a9a" stroke-width="0.6" />
<line x1="1924.2" y1="288.9" x2="1931.8" y2="281.3" stroke="#111" stroke-width="1.7" />
<line x1="1937.8" y1="279.1" x2="1937.8" y2="290.1" stroke="#9a9a9a" stroke-width="0.6" />
<line x1="1934" y1="288.9" x2="1941.6" y2="281.3" stroke="#111" stroke-width="1.7" />
<line x1="2037.6" y1="279.1" x2="2037.6" y2="290.1" stroke="#9a9a9a" stroke-width="0.6" />
<line x1="2033.8" y1="288.9" x2="2041.4" y2="281.3" stroke="#111" stroke-width="1.7" />
<line x1="2344.1" y1="279.1" x2="2344.1" y2="290.1" stroke="#9a9a9a" stroke-width="0.6" />
<line x1="2340.3" y1="288.9" x2="2347.9" y2="281.3" stroke="#111" stroke-width="1.7" />
<line x1="2374.2" y1="279.1" x2="2374.2" y2="290.1" stroke="#9a9a9a" stroke-width="0.6" />
<line x1="2370.4" y1="288.9" x2="2378" y2="281.3" stroke="#111" stroke-width="1.7" />
<text x="1573.3" y="283.3" font-size="17" fill="#0d0d0d" text-anchor="middle" >270</text>
<text x="1744.4" y="283.3" font-size="17" fill="#0d0d0d" text-anchor="middle" >2 260</text>
<text x="1880.3" y="283.3" font-size="17" fill="#0d0d0d" text-anchor="middle" >220</text>
<text x="1996.4" y="283.3" font-size="17" fill="#0d0d0d" text-anchor="middle" >730</text>
<text x="2190.7" y="283.3" font-size="17" fill="#0d0d0d" text-anchor="middle" >2 270</text>
<text x="2326.6" y="283.3" font-size="17" fill="#0d0d0d" text-anchor="middle" >220</text>
<line x1="1552.4" y1="427" x2="1931.3" y2="427" stroke="#777" stroke-width="0.7" />
<line x1="1555" y1="421" x2="1555" y2="432" stroke="#9a9a9a" stroke-width="0.6" />
<line x1="1551.2" y1="430.8" x2="1558.8" y2="423.2" stroke="#111" stroke-width="1.7" />
<line x1="1920.8" y1="421" x2="1920.8" y2="432" stroke="#9a9a9a" stroke-width="0.6" />
<line x1="1917" y1="430.8" x2="1924.6" y2="423.2" stroke="#111" stroke-width="1.7" />
<line x1="1924.6" y1="421" x2="1924.6" y2="432" stroke="#9a9a9a" stroke-width="0.6" />
<line x1="1920.8" y1="430.8" x2="1928.4" y2="423.2" stroke="#111" stroke-width="1.7" />
<line x1="1928.6" y1="421" x2="1928.6" y2="432" stroke="#9a9a9a" stroke-width="0.6" />
<line x1="1924.8" y1="430.8" x2="1932.4" y2="423.2" stroke="#111" stroke-width="1.7" />
<text x="1737.9" y="424" font-size="17" fill="#0d0d0d" text-anchor="middle" >2 700</text>
<text x="1907.7" y="424" font-size="17" fill="#0d0d0d" text-anchor="middle" >50</text>
<line x1="1534.6" y1="501" x2="1916.9" y2="501" stroke="#777" stroke-width="0.7" />
<line x1="1534.6" y1="495" x2="1534.6" y2="506" stroke="#9a9a9a" stroke-width="0.6" />
<line x1="1530.8" y1="504.8" x2="1538.4" y2="497.2" stroke="#111" stroke-width="1.7" />
<line x1="1555" y1="495" x2="1555" y2="506" stroke="#9a9a9a" stroke-width="0.6" />
<line x1="1551.2" y1="504.8" x2="1558.8" y2="497.2" stroke="#111" stroke-width="1.7" />
<line x1="1916.9" y1="495" x2="1916.9" y2="506" stroke="#9a9a9a" stroke-width="0.6" />
<line x1="1913.1" y1="504.8" x2="1920.7" y2="497.2" stroke="#111" stroke-width="1.7" />
<text x="1573.3" y="498.3" font-size="17" fill="#0d0d0d" text-anchor="middle" >150</text>
<text x="1736" y="498.3" font-size="17" fill="#0d0d0d" text-anchor="middle" >2 670</text>
<line x1="1534.2" y1="786.9" x2="1560" y2="786.9" stroke="#777" stroke-width="0.7" />
<line x1="1534.2" y1="780.9" x2="1534.2" y2="791.9" stroke="#9a9a9a" stroke-width="0.6" />
<line x1="1530.4" y1="790.7" x2="1538" y2="783.1" stroke="#111" stroke-width="1.7" />
<line x1="1554.5" y1="780.9" x2="1554.5" y2="791.9" stroke="#9a9a9a" stroke-width="0.6" />
<line x1="1550.7" y1="790.7" x2="1558.3" y2="783.1" stroke="#111" stroke-width="1.7" />
<text x="1574.5" y="783.7" font-size="17" fill="#0d0d0d" text-anchor="middle" >150</text>
<line x1="1101" y1="803.1" x2="1357" y2="803.1" stroke="#777" stroke-width="0.7" />
<line x1="1104.3" y1="797.1" x2="1104.3" y2="808.1" stroke="#9a9a9a" stroke-width="0.6" />
<line x1="1100.5" y1="806.9" x2="1108.1" y2="799.3" stroke="#111" stroke-width="1.7" />
<line x1="1357" y1="797.1" x2="1357" y2="808.1" stroke="#9a9a9a" stroke-width="0.6" />
<line x1="1353.2" y1="806.9" x2="1360.8" y2="799.3" stroke="#111" stroke-width="1.7" />
<text x="1231.6" y="799.4" font-size="17" fill="#0d0d0d" text-anchor="middle" >1 870</text>
<line x1="1110.6" y1="882" x2="1332.7" y2="882" stroke="#777" stroke-width="0.7" />
<line x1="1110.6" y1="876" x2="1110.6" y2="887" stroke="#9a9a9a" stroke-width="0.6" />
<line x1="1106.8" y1="885.8" x2="1114.4" y2="878.2" stroke="#111" stroke-width="1.7" />
<line x1="1332.7" y1="876" x2="1332.7" y2="887" stroke="#9a9a9a" stroke-width="0.6" />
<line x1="1328.9" y1="885.8" x2="1336.5" y2="878.2" stroke="#111" stroke-width="1.7" />
<text x="1222.4" y="879.1" font-size="17" fill="#0d0d0d" text-anchor="middle" >1 640</text>
<line x1="1357.3" y1="936.2" x2="1917" y2="936.2" stroke="#777" stroke-width="0.7" />
<line x1="1357.3" y1="930.2" x2="1357.3" y2="941.2" stroke="#9a9a9a" stroke-width="0.6" />
<line x1="1353.5" y1="940" x2="1361.1" y2="932.4" stroke="#111" stroke-width="1.7" />
<line x1="1367.1" y1="930.2" x2="1367.1" y2="941.2" stroke="#9a9a9a" stroke-width="0.6" />
<line x1="1363.3" y1="940" x2="1370.9" y2="932.4" stroke="#111" stroke-width="1.7" />
<line x1="1488.7" y1="930.2" x2="1488.7" y2="941.2" stroke="#9a9a9a" stroke-width="0.6" />
<line x1="1484.9" y1="940" x2="1492.5" y2="932.4" stroke="#111" stroke-width="1.7" />
<line x1="1499.5" y1="930.2" x2="1499.5" y2="941.2" stroke="#9a9a9a" stroke-width="0.6" />
<line x1="1495.7" y1="940" x2="1503.3" y2="932.4" stroke="#111" stroke-width="1.7" />
<line x1="1555.1" y1="930.2" x2="1555.1" y2="941.2" stroke="#9a9a9a" stroke-width="0.6" />
<line x1="1551.3" y1="940" x2="1558.9" y2="932.4" stroke="#111" stroke-width="1.7" />
<line x1="1587.9" y1="930.2" x2="1587.9" y2="941.2" stroke="#9a9a9a" stroke-width="0.6" />
<line x1="1584.1" y1="940" x2="1591.7" y2="932.4" stroke="#111" stroke-width="1.7" />
<line x1="1709.2" y1="930.2" x2="1709.2" y2="941.2" stroke="#9a9a9a" stroke-width="0.6" />
<line x1="1705.4" y1="940" x2="1713" y2="932.4" stroke="#111" stroke-width="1.7" />
<line x1="1917" y1="930.2" x2="1917" y2="941.2" stroke="#9a9a9a" stroke-width="0.6" />
<line x1="1913.2" y1="940" x2="1920.8" y2="932.4" stroke="#111" stroke-width="1.7" />
<text x="1382" y="934.1" font-size="17" fill="#0d0d0d" text-anchor="middle" >70</text>
<text x="1427.8" y="934.1" font-size="17" fill="#0d0d0d" text-anchor="middle" >900</text>
<text x="1475.8" y="934.1" font-size="17" fill="#0d0d0d" text-anchor="middle" >80</text>
<rect x="1520.6" y="920.1" width="32.8" height="16.5" fill="#d6d6d6" />
<text x="1537" y="934.1" font-size="17" fill="#0d0d0d" text-anchor="middle" >240</text>
<text x="1648.6" y="934.1" font-size="17" fill="#0d0d0d" text-anchor="middle" >900</text>
<text x="1813.8" y="934.1" font-size="17" fill="#0d0d0d" text-anchor="middle" >1 530</text>
<line x1="1330" y1="1037.6" x2="1937.9" y2="1037.6" stroke="#777" stroke-width="0.7" />
<line x1="1357.3" y1="1031.6" x2="1357.3" y2="1042.6" stroke="#9a9a9a" stroke-width="0.6" />
<line x1="1353.5" y1="1041.4" x2="1361.1" y2="1033.8" stroke="#111" stroke-width="1.7" />
<line x1="1367.1" y1="1031.6" x2="1367.1" y2="1042.6" stroke="#9a9a9a" stroke-width="0.6" />
<line x1="1363.3" y1="1041.4" x2="1370.9" y2="1033.8" stroke="#111" stroke-width="1.7" />
<line x1="1373.7" y1="1031.6" x2="1373.7" y2="1042.6" stroke="#9a9a9a" stroke-width="0.6" />
<line x1="1369.9" y1="1041.4" x2="1377.5" y2="1033.8" stroke="#111" stroke-width="1.7" />
<line x1="1481.8" y1="1031.6" x2="1481.8" y2="1042.6" stroke="#9a9a9a" stroke-width="0.6" />
<line x1="1478" y1="1041.4" x2="1485.6" y2="1033.8" stroke="#111" stroke-width="1.7" />
<line x1="1488.7" y1="1031.6" x2="1488.7" y2="1042.6" stroke="#9a9a9a" stroke-width="0.6" />
<line x1="1484.9" y1="1041.4" x2="1492.5" y2="1033.8" stroke="#111" stroke-width="1.7" />
<line x1="1587.9" y1="1031.6" x2="1587.9" y2="1042.6" stroke="#9a9a9a" stroke-width="0.6" />
<line x1="1584.1" y1="1041.4" x2="1591.7" y2="1033.8" stroke="#111" stroke-width="1.7" />
<line x1="1594.8" y1="1031.6" x2="1594.8" y2="1042.6" stroke="#9a9a9a" stroke-width="0.6" />
<line x1="1591" y1="1041.4" x2="1598.6" y2="1033.8" stroke="#111" stroke-width="1.7" />
<line x1="1702.7" y1="1031.6" x2="1702.7" y2="1042.6" stroke="#9a9a9a" stroke-width="0.6" />
<line x1="1698.9" y1="1041.4" x2="1706.5" y2="1033.8" stroke="#111" stroke-width="1.7" />
<line x1="1709.2" y1="1031.6" x2="1709.2" y2="1042.6" stroke="#9a9a9a" stroke-width="0.6" />
<line x1="1705.4" y1="1041.4" x2="1713" y2="1033.8" stroke="#111" stroke-width="1.7" />
<line x1="1937.9" y1="1031.6" x2="1937.9" y2="1042.6" stroke="#9a9a9a" stroke-width="0.6" />
<line x1="1934.1" y1="1041.4" x2="1941.7" y2="1033.8" stroke="#111" stroke-width="1.7" />
<text x="1344.7" y="1036" font-size="17" fill="#0d0d0d" text-anchor="middle" >70</text>
<text x="1386.6" y="1036" font-size="17" fill="#0d0d0d" text-anchor="middle" >50</text>
<text x="1427.8" y="1036" font-size="17" fill="#0d0d0d" text-anchor="middle" >800</text>
<text x="1468.9" y="1036" font-size="17" fill="#0d0d0d" text-anchor="middle" >50</text>
<text x="1538.2" y="1036" font-size="17" fill="#0d0d0d" text-anchor="middle" >730</text>
<text x="1574.6" y="1036" font-size="17" fill="#0d0d0d" text-anchor="middle" >50</text>
<text x="1648.6" y="1036" font-size="17" fill="#0d0d0d" text-anchor="middle" >800</text>
<text x="1689.6" y="1036" font-size="17" fill="#0d0d0d" text-anchor="middle" >50</text>
<text x="1830" y="1036" font-size="17" fill="#0d0d0d" text-anchor="middle" >1 690</text>
<line x1="1108" y1="1154.3" x2="1332.9" y2="1154.3" stroke="#777" stroke-width="0.7" />
<line x1="1110.9" y1="1148.3" x2="1110.9" y2="1159.3" stroke="#9a9a9a" stroke-width="0.6" />
<line x1="1107.1" y1="1158.1" x2="1114.7" y2="1150.5" stroke="#111" stroke-width="1.7" />
<line x1="1138" y1="1148.3" x2="1138" y2="1159.3" stroke="#9a9a9a" stroke-width="0.6" />
<line x1="1134.2" y1="1158.1" x2="1141.8" y2="1150.5" stroke="#111" stroke-width="1.7" />
<line x1="1224.7" y1="1148.3" x2="1224.7" y2="1159.3" stroke="#9a9a9a" stroke-width="0.6" />
<line x1="1220.9" y1="1158.1" x2="1228.5" y2="1150.5" stroke="#111" stroke-width="1.7" />
<line x1="1332.9" y1="1148.3" x2="1332.9" y2="1159.3" stroke="#9a9a9a" stroke-width="0.6" />
<line x1="1329.1" y1="1158.1" x2="1336.7" y2="1150.5" stroke="#111" stroke-width="1.7" />
<rect x="1076.9" y="1137.8" width="32.8" height="16.5" fill="#d6d6d6" />
<text x="1093.3" y="1151.8" font-size="17" fill="#0d0d0d" text-anchor="middle" >200</text>
<text x="1181.9" y="1151.8" font-size="17" fill="#0d0d0d" text-anchor="middle" >640</text>
<text x="1268.9" y="1151.8" font-size="17" fill="#0d0d0d" text-anchor="middle" >800</text>
<line x1="1371" y1="1230.1" x2="1603.4" y2="1230.1" stroke="#777" stroke-width="0.7" />
<line x1="1603.4" y1="1224.1" x2="1603.4" y2="1235.1" stroke="#9a9a9a" stroke-width="0.6" />
<line x1="1599.6" y1="1233.9" x2="1607.2" y2="1226.3" stroke="#111" stroke-width="1.7" />
<text x="1481.4" y="1227.7" font-size="17" fill="#0d0d0d" text-anchor="middle" >1 820</text>
<line x1="1603.4" y1="1288" x2="1931.3" y2="1288" stroke="#777" stroke-width="0.7" />
<line x1="1603.4" y1="1282" x2="1603.4" y2="1293" stroke="#9a9a9a" stroke-width="0.6" />
<line x1="1599.6" y1="1291.8" x2="1607.2" y2="1284.2" stroke="#111" stroke-width="1.7" />
<line x1="1696.2" y1="1282" x2="1696.2" y2="1293" stroke="#9a9a9a" stroke-width="0.6" />
<line x1="1692.4" y1="1291.8" x2="1700" y2="1284.2" stroke="#111" stroke-width="1.7" />
<line x1="1833.4" y1="1282" x2="1833.4" y2="1293" stroke="#9a9a9a" stroke-width="0.6" />
<line x1="1829.6" y1="1291.8" x2="1837.2" y2="1284.2" stroke="#111" stroke-width="1.7" />
<line x1="1931.3" y1="1282" x2="1931.3" y2="1293" stroke="#9a9a9a" stroke-width="0.6" />
<line x1="1927.5" y1="1291.8" x2="1935.1" y2="1284.2" stroke="#111" stroke-width="1.7" />
<text x="1666.1" y="1286.3" font-size="17" fill="#0d0d0d" text-anchor="middle" >680</text>
<text x="1765.4" y="1286.3" font-size="17" fill="#0d0d0d" text-anchor="middle" >1 020</text>
<text x="1862.1" y="1286.3" font-size="17" fill="#0d0d0d" text-anchor="middle" >710</text>
<line x1="1930" y1="1076.8" x2="2197.7" y2="1076.8" stroke="#777" stroke-width="0.7" />
<line x1="1930" y1="1070.8" x2="1930" y2="1081.8" stroke="#9a9a9a" stroke-width="0.6" />
<line x1="1926.2" y1="1080.6" x2="1933.8" y2="1073" stroke="#111" stroke-width="1.7" />
<line x1="2197.7" y1="1070.8" x2="2197.7" y2="1081.8" stroke="#9a9a9a" stroke-width="0.6" />
<line x1="2193.9" y1="1080.6" x2="2201.5" y2="1073" stroke="#111" stroke-width="1.7" />
<text x="2064.9" y="1074.6" font-size="17" fill="#0d0d0d" text-anchor="middle" >1 980</text>
<line x1="2198.2" y1="1154.9" x2="2383.4" y2="1154.9" stroke="#777" stroke-width="0.7" />
<line x1="2198.2" y1="1148.9" x2="2198.2" y2="1159.9" stroke="#9a9a9a" stroke-width="0.6" />
<line x1="2194.4" y1="1158.7" x2="2202" y2="1151.1" stroke="#111" stroke-width="1.7" />
<line x1="2279.2" y1="1148.9" x2="2279.2" y2="1159.9" stroke="#9a9a9a" stroke-width="0.6" />
<line x1="2275.4" y1="1158.7" x2="2283" y2="1151.1" stroke="#111" stroke-width="1.7" />
<line x1="2383.4" y1="1148.9" x2="2383.4" y2="1159.9" stroke="#9a9a9a" stroke-width="0.6" />
<line x1="2379.6" y1="1158.7" x2="2387.2" y2="1151.1" stroke="#111" stroke-width="1.7" />
<text x="2257" y="1152.5" font-size="17" fill="#0d0d0d" text-anchor="middle" >600</text>
<text x="2331.4" y="1152.5" font-size="17" fill="#0d0d0d" text-anchor="middle" >770</text>
<line x1="1951.7" y1="1168" x2="2176" y2="1168" stroke="#777" stroke-width="0.7" />
<line x1="1951.7" y1="1162" x2="1951.7" y2="1173" stroke="#9a9a9a" stroke-width="0.6" />
<line x1="1947.9" y1="1171.8" x2="1955.5" y2="1164.2" stroke="#111" stroke-width="1.7" />
<line x1="2176" y1="1162" x2="2176" y2="1173" stroke="#9a9a9a" stroke-width="0.6" />
<line x1="2172.2" y1="1171.8" x2="2179.8" y2="1164.2" stroke="#111" stroke-width="1.7" />
<text x="2064.9" y="1165.5" font-size="17" fill="#0d0d0d" text-anchor="middle" >1 660</text>
<line x1="1951.7" y1="1238.4" x2="2176" y2="1238.4" stroke="#777" stroke-width="0.7" />
<line x1="1951.7" y1="1232.4" x2="1951.7" y2="1243.4" stroke="#9a9a9a" stroke-width="0.6" />
<line x1="1947.9" y1="1242.2" x2="1955.5" y2="1234.6" stroke="#111" stroke-width="1.7" />
<line x1="2086.3" y1="1232.4" x2="2086.3" y2="1243.4" stroke="#9a9a9a" stroke-width="0.6" />
<line x1="2082.5" y1="1242.2" x2="2090.1" y2="1234.6" stroke="#111" stroke-width="1.7" />
<line x1="2176" y1="1232.4" x2="2176" y2="1243.4" stroke="#9a9a9a" stroke-width="0.6" />
<line x1="2172.2" y1="1242.2" x2="2179.8" y2="1234.6" stroke="#111" stroke-width="1.7" />
<text x="2019.7" y="1236.1" font-size="17" fill="#0d0d0d" text-anchor="middle" >1 000</text>
<text x="2132" y="1236.1" font-size="17" fill="#0d0d0d" text-anchor="middle" >660</text>
<line x1="1158.7" y1="247" x2="1158.7" y2="825.3" stroke="#777" stroke-width="0.7" />
<line x1="1147.7" y1="247" x2="1163.7" y2="247" stroke="#9a9a9a" stroke-width="0.6" />
<line x1="1154.9" y1="243.2" x2="1162.5" y2="250.8" stroke="#111" stroke-width="1.7" />
<line x1="1147.7" y1="448.5" x2="1163.7" y2="448.5" stroke="#9a9a9a" stroke-width="0.6" />
<line x1="1154.9" y1="444.7" x2="1162.5" y2="452.3" stroke="#111" stroke-width="1.7" />
<line x1="1147.7" y1="583.6" x2="1163.7" y2="583.6" stroke="#9a9a9a" stroke-width="0.6" />
<line x1="1154.9" y1="579.8" x2="1162.5" y2="587.4" stroke="#111" stroke-width="1.7" />
<line x1="1147.7" y1="744.3" x2="1163.7" y2="744.3" stroke="#9a9a9a" stroke-width="0.6" />
<line x1="1154.9" y1="740.5" x2="1162.5" y2="748.1" stroke="#111" stroke-width="1.7" />
<line x1="1147.7" y1="825.3" x2="1163.7" y2="825.3" stroke="#9a9a9a" stroke-width="0.6" />
<line x1="1154.9" y1="821.5" x2="1162.5" y2="829.1" stroke="#111" stroke-width="1.7" />
<text x="1156.9" y="345.7" font-size="17" fill="#0d0d0d" text-anchor="middle" transform="rotate(-90 1156.9 345.7)" >1 495</text>
<text x="1156.9" y="516" font-size="17" fill="#0d0d0d" text-anchor="middle" transform="rotate(-90 1156.9 516)" >1 000</text>
<text x="1156.9" y="662" font-size="17" fill="#0d0d0d" text-anchor="middle" transform="rotate(-90 1156.9 662)" >1 185</text>
<text x="1156.9" y="783.5" font-size="17" fill="#0d0d0d" text-anchor="middle" transform="rotate(-90 1156.9 783.5)" >600</text>
<line x1="1457.9" y1="246" x2="1457.9" y2="965" stroke="#777" stroke-width="0.7" />
<text x="1456.1" y="604.5" font-size="17" fill="#0d0d0d" text-anchor="middle" transform="rotate(-90 1456.1 604.5)" >5 310</text>
<line x1="1620.4" y1="246.2" x2="1620.4" y2="965" stroke="#777" stroke-width="0.7" />
<line x1="1609.4" y1="246.2" x2="1625.4" y2="246.2" stroke="#9a9a9a" stroke-width="0.6" />
<line x1="1616.6" y1="242.4" x2="1624.2" y2="250" stroke="#111" stroke-width="1.7" />
<line x1="1609.4" y1="448.7" x2="1625.4" y2="448.7" stroke="#9a9a9a" stroke-width="0.6" />
<line x1="1616.6" y1="444.9" x2="1624.2" y2="452.5" stroke="#111" stroke-width="1.7" />
<line x1="1609.4" y1="459.7" x2="1625.4" y2="459.7" stroke="#9a9a9a" stroke-width="0.6" />
<line x1="1616.6" y1="455.9" x2="1624.2" y2="463.5" stroke="#111" stroke-width="1.7" />
<line x1="1609.4" y1="816.2" x2="1625.4" y2="816.2" stroke="#9a9a9a" stroke-width="0.6" />
<line x1="1616.6" y1="812.4" x2="1624.2" y2="820" stroke="#111" stroke-width="1.7" />
<line x1="1609.4" y1="964.9" x2="1625.4" y2="964.9" stroke="#9a9a9a" stroke-width="0.6" />
<line x1="1616.6" y1="961.1" x2="1624.2" y2="968.7" stroke="#111" stroke-width="1.7" />
<text x="1618.6" y="346" font-size="17" fill="#0d0d0d" text-anchor="middle" transform="rotate(-90 1618.6 346)" >1 500</text>
<text x="1618.6" y="637.2" font-size="17" fill="#0d0d0d" text-anchor="middle" transform="rotate(-90 1618.6 637.2)" >2 630</text>
<text x="1618.6" y="886.7" font-size="17" fill="#0d0d0d" text-anchor="middle" transform="rotate(-90 1618.6 886.7)" >1 100</text>
<line x1="1872.6" y1="455.8" x2="1872.6" y2="966" stroke="#777" stroke-width="0.7" />
<line x1="1861.6" y1="455.8" x2="1877.6" y2="455.8" stroke="#9a9a9a" stroke-width="0.6" />
<line x1="1868.8" y1="452" x2="1876.4" y2="459.6" stroke="#111" stroke-width="1.7" />
<line x1="1861.6" y1="883.6" x2="1877.6" y2="883.6" stroke="#9a9a9a" stroke-width="0.6" />
<line x1="1868.8" y1="879.8" x2="1876.4" y2="887.4" stroke="#111" stroke-width="1.7" />
<line x1="1861.6" y1="966" x2="1877.6" y2="966" stroke="#9a9a9a" stroke-width="0.6" />
<line x1="1868.8" y1="962.2" x2="1876.4" y2="969.8" stroke="#111" stroke-width="1.7" />
<text x="1870.8" y="669.8" font-size="17" fill="#0d0d0d" text-anchor="middle" transform="rotate(-90 1870.8 669.8)" >3 160</text>
<text x="1870.8" y="914" font-size="17" fill="#0d0d0d" text-anchor="middle" transform="rotate(-90 1870.8 914)" >600</text>
<line x1="1992.5" y1="245.4" x2="1992.5" y2="987" stroke="#777" stroke-width="0.7" />
<line x1="1981.5" y1="245.4" x2="1997.5" y2="245.4" stroke="#9a9a9a" stroke-width="0.6" />
<line x1="1988.7" y1="241.6" x2="1996.3" y2="249.2" stroke="#111" stroke-width="1.7" />
<line x1="1981.5" y1="448.7" x2="1997.5" y2="448.7" stroke="#9a9a9a" stroke-width="0.6" />
<line x1="1988.7" y1="444.9" x2="1996.3" y2="452.5" stroke="#111" stroke-width="1.7" />
<line x1="1981.5" y1="828" x2="1997.5" y2="828" stroke="#9a9a9a" stroke-width="0.6" />
<line x1="1988.7" y1="824.2" x2="1996.3" y2="831.8" stroke="#111" stroke-width="1.7" />
<line x1="1981.5" y1="987" x2="1997.5" y2="987" stroke="#9a9a9a" stroke-width="0.6" />
<line x1="1988.7" y1="983.2" x2="1996.3" y2="990.8" stroke="#111" stroke-width="1.7" />
<text x="1990.7" y="346" font-size="17" fill="#0d0d0d" text-anchor="middle" transform="rotate(-90 1990.7 346)" >1 500</text>
<text x="1990.7" y="638.5" font-size="17" fill="#0d0d0d" text-anchor="middle" transform="rotate(-90 1990.7 638.5)" >2 800</text>
<text x="1990.7" y="906" font-size="17" fill="#0d0d0d" text-anchor="middle" transform="rotate(-90 1990.7 906)" >1 170</text>
<line x1="2337" y1="246.2" x2="2337" y2="1185.2" stroke="#777" stroke-width="0.7" />
<line x1="2326" y1="246.2" x2="2342" y2="246.2" stroke="#9a9a9a" stroke-width="0.6" />
<line x1="2333.2" y1="242.4" x2="2340.8" y2="250" stroke="#111" stroke-width="1.7" />
<line x1="2326" y1="408.2" x2="2342" y2="408.2" stroke="#9a9a9a" stroke-width="0.6" />
<line x1="2333.2" y1="404.4" x2="2340.8" y2="412" stroke="#111" stroke-width="1.7" />
<line x1="2326" y1="496.3" x2="2342" y2="496.3" stroke="#9a9a9a" stroke-width="0.6" />
<line x1="2333.2" y1="492.5" x2="2340.8" y2="500.1" stroke="#111" stroke-width="1.7" />
<line x1="2326" y1="570" x2="2342" y2="570" stroke="#9a9a9a" stroke-width="0.6" />
<line x1="2333.2" y1="566.2" x2="2340.8" y2="573.8" stroke="#111" stroke-width="1.7" />
<line x1="2326" y1="604" x2="2342" y2="604" stroke="#9a9a9a" stroke-width="0.6" />
<line x1="2333.2" y1="600.2" x2="2340.8" y2="607.8" stroke="#111" stroke-width="1.7" />
<line x1="2326" y1="666" x2="2342" y2="666" stroke="#9a9a9a" stroke-width="0.6" />
<line x1="2333.2" y1="662.2" x2="2340.8" y2="669.8" stroke="#111" stroke-width="1.7" />
<line x1="2326" y1="746.4" x2="2342" y2="746.4" stroke="#9a9a9a" stroke-width="0.6" />
<line x1="2333.2" y1="742.6" x2="2340.8" y2="750.2" stroke="#111" stroke-width="1.7" />
<line x1="2326" y1="1185.2" x2="2342" y2="1185.2" stroke="#9a9a9a" stroke-width="0.6" />
<line x1="2333.2" y1="1181.4" x2="2340.8" y2="1189" stroke="#111" stroke-width="1.7" />
<text x="2335.2" y="326.4" font-size="17" fill="#0d0d0d" text-anchor="middle" transform="rotate(-90 2335.2 326.4)" >1 200</text>
<text x="2335.2" y="451.9" font-size="17" fill="#0d0d0d" text-anchor="middle" transform="rotate(-90 2335.2 451.9)" >650</text>
<text x="2335.2" y="534" font-size="17" fill="#0d0d0d" text-anchor="middle" transform="rotate(-90 2335.2 534)" >550</text>
<text x="2335.2" y="585" font-size="17" fill="#0d0d0d" text-anchor="middle" transform="rotate(-90 2335.2 585)" >250</text>
<text x="2335.2" y="634.6" font-size="17" fill="#0d0d0d" text-anchor="middle" transform="rotate(-90 2335.2 634.6)" >450</text>
<text x="2335.2" y="706.4" font-size="17" fill="#0d0d0d" text-anchor="middle" transform="rotate(-90 2335.2 706.4)" >600</text>
<text x="2335.2" y="966.2" font-size="17" fill="#0d0d0d" text-anchor="middle" transform="rotate(-90 2335.2 966.2)" >3 240</text>
<line x1="1410.8" y1="825.2" x2="1410.8" y2="1249.7" stroke="#777" stroke-width="0.7" />
<line x1="1399.8" y1="825.2" x2="1415.8" y2="825.2" stroke="#9a9a9a" stroke-width="0.6" />
<line x1="1407" y1="821.4" x2="1414.6" y2="829" stroke="#111" stroke-width="1.7" />
<line x1="1399.8" y1="964.9" x2="1415.8" y2="964.9" stroke="#9a9a9a" stroke-width="0.6" />
<line x1="1407" y1="961.1" x2="1414.6" y2="968.7" stroke="#111" stroke-width="1.7" />
<line x1="1399.8" y1="986.1" x2="1415.8" y2="986.1" stroke="#9a9a9a" stroke-width="0.6" />
<line x1="1407" y1="982.3" x2="1414.6" y2="989.9" stroke="#111" stroke-width="1.7" />
<line x1="1399.8" y1="999.9" x2="1415.8" y2="999.9" stroke="#9a9a9a" stroke-width="0.6" />
<line x1="1407" y1="996.1" x2="1414.6" y2="1003.7" stroke="#111" stroke-width="1.7" />
<line x1="1399.8" y1="1009.4" x2="1415.8" y2="1009.4" stroke="#9a9a9a" stroke-width="0.6" />
<line x1="1407" y1="1005.6" x2="1414.6" y2="1013.2" stroke="#111" stroke-width="1.7" />
<line x1="1399.8" y1="1104.7" x2="1415.8" y2="1104.7" stroke="#9a9a9a" stroke-width="0.6" />
<line x1="1407" y1="1100.9" x2="1414.6" y2="1108.5" stroke="#111" stroke-width="1.7" />
<line x1="1399.8" y1="1111.3" x2="1415.8" y2="1111.3" stroke="#9a9a9a" stroke-width="0.6" />
<line x1="1407" y1="1107.5" x2="1414.6" y2="1115.1" stroke="#111" stroke-width="1.7" />
<line x1="1399.8" y1="1249.7" x2="1415.8" y2="1249.7" stroke="#9a9a9a" stroke-width="0.6" />
<line x1="1407" y1="1245.9" x2="1414.6" y2="1253.5" stroke="#111" stroke-width="1.7" />
<text x="1409" y="893.9" font-size="17" fill="#0d0d0d" text-anchor="middle" transform="rotate(-90 1409 893.9)" >1 030</text>
<text x="1409" y="1016" font-size="17" fill="#0d0d0d" text-anchor="middle" transform="rotate(-90 1409 1016)" >50</text>
<text x="1409" y="1056.4" font-size="17" fill="#0d0d0d" text-anchor="middle" transform="rotate(-90 1409 1056.4)" >700</text>
<text x="1409" y="1123" font-size="17" fill="#0d0d0d" text-anchor="middle" transform="rotate(-90 1409 1123)" >50</text>
<text x="1409" y="1179.2" font-size="17" fill="#0d0d0d" text-anchor="middle" transform="rotate(-90 1409 1179.2)" >1 020</text>
<line x1="1432.1" y1="999.9" x2="1432.1" y2="1080" stroke="#777" stroke-width="0.6" />
<text x="1429.6" y="1059" font-size="17" fill="#0d0d0d" text-anchor="middle" transform="rotate(-90 1429.6 1059)" >120</text>
<line x1="1309" y1="849.9" x2="1309" y2="1192.5" stroke="#777" stroke-width="0.7" />
<line x1="1298" y1="849.9" x2="1314" y2="849.9" stroke="#9a9a9a" stroke-width="0.6" />
<line x1="1305.2" y1="846.1" x2="1312.8" y2="853.7" stroke="#111" stroke-width="1.7" />
<line x1="1298" y1="1002.5" x2="1314" y2="1002.5" stroke="#9a9a9a" stroke-width="0.6" />
<line x1="1305.2" y1="998.7" x2="1312.8" y2="1006.3" stroke="#111" stroke-width="1.7" />
<line x1="1298" y1="1111.3" x2="1314" y2="1111.3" stroke="#9a9a9a" stroke-width="0.6" />
<line x1="1305.2" y1="1107.5" x2="1312.8" y2="1115.1" stroke="#111" stroke-width="1.7" />
<line x1="1298" y1="1192.5" x2="1314" y2="1192.5" stroke="#9a9a9a" stroke-width="0.6" />
<line x1="1305.2" y1="1188.7" x2="1312.8" y2="1196.3" stroke="#111" stroke-width="1.7" />
<text x="1307.2" y="924.4" font-size="17" fill="#0d0d0d" text-anchor="middle" transform="rotate(-90 1307.2 924.4)" >1 130</text>
<text x="1307.2" y="1040.7" font-size="17" fill="#0d0d0d" text-anchor="middle" transform="rotate(-90 1307.2 1040.7)" >800</text>
<text x="1307.2" y="1137.4" font-size="17" fill="#0d0d0d" text-anchor="middle" transform="rotate(-90 1307.2 1137.4)" >600</text>
<line x1="1146.6" y1="863.4" x2="1146.6" y2="1213" stroke="#777" stroke-width="0.7" />
<text x="1144.8" y="1015.9" font-size="17" fill="#0d0d0d" text-anchor="middle" transform="rotate(-90 1144.8 1015.9)" >2 450</text>
<line x1="1257.5" y1="1160" x2="1257.5" y2="1250" stroke="#777" stroke-width="0.7" />
<line x1="1246.5" y1="1183" x2="1262.5" y2="1183" stroke="#9a9a9a" stroke-width="0.6" />
<line x1="1253.7" y1="1179.2" x2="1261.3" y2="1186.8" stroke="#111" stroke-width="1.7" />
<line x1="1246.5" y1="1192.7" x2="1262.5" y2="1192.7" stroke="#9a9a9a" stroke-width="0.6" />
<line x1="1253.7" y1="1188.9" x2="1261.3" y2="1196.5" stroke="#111" stroke-width="1.7" />
<line x1="1246.5" y1="1246.8" x2="1262.5" y2="1246.8" stroke="#9a9a9a" stroke-width="0.6" />
<line x1="1253.7" y1="1243" x2="1261.3" y2="1250.6" stroke="#111" stroke-width="1.7" />
<text x="1255.7" y="1171.5" font-size="17" fill="#0d0d0d" text-anchor="middle" transform="rotate(-90 1255.7 1171.5)" >80</text>
<text x="1255.7" y="1218.6" font-size="17" fill="#0d0d0d" text-anchor="middle" transform="rotate(-90 1255.7 1218.6)" >400</text>
<line x1="1309" y1="1192.5" x2="1309" y2="1250" stroke="#777" stroke-width="0.7" />
<line x1="1298" y1="1246.8" x2="1314" y2="1246.8" stroke="#9a9a9a" stroke-width="0.6" />
<line x1="1305.2" y1="1243" x2="1312.8" y2="1250.6" stroke="#111" stroke-width="1.7" />
<text x="1307.2" y="1218.6" font-size="17" fill="#0d0d0d" text-anchor="middle" transform="rotate(-90 1307.2 1218.6)" >400</text>
<line x1="1144.2" y1="1179.2" x2="1151.8" y2="1186.8" stroke="#111" stroke-width="1.7" />
<line x1="1156.2" y1="1179.2" x2="1163.8" y2="1186.8" stroke="#111" stroke-width="1.7" />
<line x1="1156.2" y1="1205.7" x2="1163.8" y2="1213.3" stroke="#111" stroke-width="1.7" />
<rect x="1142.8" y="1181.8" width="16.5" height="32.8" fill="#d6d6d6" />
<text x="1156.8" y="1198.2" font-size="17" fill="#0d0d0d" text-anchor="middle" transform="rotate(-90 1156.8 1198.2)" >200</text>
<line x1="1638.7" y1="1249.7" x2="1638.7" y2="1317.2" stroke="#777" stroke-width="0.7" />
<line x1="1627.7" y1="1249.7" x2="1643.7" y2="1249.7" stroke="#9a9a9a" stroke-width="0.6" />
<line x1="1634.9" y1="1245.9" x2="1642.5" y2="1253.5" stroke="#111" stroke-width="1.7" />
<line x1="1627.7" y1="1317.2" x2="1643.7" y2="1317.2" stroke="#9a9a9a" stroke-width="0.6" />
<line x1="1634.9" y1="1313.4" x2="1642.5" y2="1321" stroke="#111" stroke-width="1.7" />
<text x="1636.9" y="1292.4" font-size="17" fill="#0d0d0d" text-anchor="middle" transform="rotate(-90 1636.9 1292.4)" >500</text>
<line x1="1900" y1="1104.2" x2="1900" y2="1317.2" stroke="#777" stroke-width="0.7" />
<line x1="1889" y1="1104.2" x2="1905" y2="1104.2" stroke="#9a9a9a" stroke-width="0.6" />
<line x1="1896.2" y1="1100.4" x2="1903.8" y2="1108" stroke="#111" stroke-width="1.7" />
<line x1="1889" y1="1144.8" x2="1905" y2="1144.8" stroke="#9a9a9a" stroke-width="0.6" />
<line x1="1896.2" y1="1141" x2="1903.8" y2="1148.6" stroke="#111" stroke-width="1.7" />
<line x1="1889" y1="1151.7" x2="1905" y2="1151.7" stroke="#9a9a9a" stroke-width="0.6" />
<line x1="1896.2" y1="1147.9" x2="1903.8" y2="1155.5" stroke="#111" stroke-width="1.7" />
<line x1="1889" y1="1260.1" x2="1905" y2="1260.1" stroke="#9a9a9a" stroke-width="0.6" />
<line x1="1896.2" y1="1256.3" x2="1903.8" y2="1263.9" stroke="#111" stroke-width="1.7" />
<line x1="1889" y1="1267" x2="1905" y2="1267" stroke="#9a9a9a" stroke-width="0.6" />
<line x1="1896.2" y1="1263.2" x2="1903.8" y2="1270.8" stroke="#111" stroke-width="1.7" />
<line x1="1889" y1="1317.2" x2="1905" y2="1317.2" stroke="#9a9a9a" stroke-width="0.6" />
<line x1="1896.2" y1="1313.4" x2="1903.8" y2="1321" stroke="#111" stroke-width="1.7" />
<text x="1898.2" y="1124.3" font-size="17" fill="#0d0d0d" text-anchor="middle" transform="rotate(-90 1898.2 1124.3)" >300</text>
<text x="1898.2" y="1163.5" font-size="17" fill="#0d0d0d" text-anchor="middle" transform="rotate(-90 1898.2 1163.5)" >50</text>
<text x="1898.2" y="1205.3" font-size="17" fill="#0d0d0d" text-anchor="middle" transform="rotate(-90 1898.2 1205.3)" >800</text>
<text x="1898.2" y="1249.7" font-size="17" fill="#0d0d0d" text-anchor="middle" transform="rotate(-90 1898.2 1249.7)" >50</text>
<text x="1898.2" y="1290.2" font-size="17" fill="#0d0d0d" text-anchor="middle" transform="rotate(-90 1898.2 1290.2)" >370</text>
<line x1="1989.7" y1="1127" x2="1989.7" y2="1317.3" stroke="#777" stroke-width="0.7" />
<line x1="1978.7" y1="1127" x2="1994.7" y2="1127" stroke="#9a9a9a" stroke-width="0.6" />
<line x1="1985.9" y1="1123.2" x2="1993.5" y2="1130.8" stroke="#111" stroke-width="1.7" />
<line x1="1978.7" y1="1144.8" x2="1994.7" y2="1144.8" stroke="#9a9a9a" stroke-width="0.6" />
<line x1="1985.9" y1="1141" x2="1993.5" y2="1148.6" stroke="#111" stroke-width="1.7" />
<line x1="1978.7" y1="1267" x2="1994.7" y2="1267" stroke="#9a9a9a" stroke-width="0.6" />
<line x1="1985.9" y1="1263.2" x2="1993.5" y2="1270.8" stroke="#111" stroke-width="1.7" />
<line x1="1978.7" y1="1317.3" x2="1994.7" y2="1317.3" stroke="#9a9a9a" stroke-width="0.6" />
<line x1="1985.9" y1="1313.5" x2="1993.5" y2="1321.1" stroke="#111" stroke-width="1.7" />
<text x="1987.9" y="1161.5" font-size="17" fill="#0d0d0d" text-anchor="middle" transform="rotate(-90 1987.9 1161.5)" >140</text>
<text x="1987.9" y="1205.9" font-size="17" fill="#0d0d0d" text-anchor="middle" transform="rotate(-90 1987.9 1205.9)" >900</text>
<text x="1987.9" y="1290.7" font-size="17" fill="#0d0d0d" text-anchor="middle" transform="rotate(-90 1987.9 1290.7)" >370</text>
<line x1="2149.4" y1="1127" x2="2149.4" y2="1261.1" stroke="#777" stroke-width="0.7" />
<line x1="2138.4" y1="1127" x2="2154.4" y2="1127" stroke="#9a9a9a" stroke-width="0.6" />
<line x1="2145.6" y1="1123.2" x2="2153.2" y2="1130.8" stroke="#111" stroke-width="1.7" />
<line x1="2138.4" y1="1261.1" x2="2154.4" y2="1261.1" stroke="#9a9a9a" stroke-width="0.6" />
<line x1="2145.6" y1="1257.3" x2="2153.2" y2="1264.9" stroke="#111" stroke-width="1.7" />
<text x="2147.6" y="1194" font-size="17" fill="#0d0d0d" text-anchor="middle" transform="rotate(-90 2147.6 1194)" >990</text>
<line x1="2056.7" y1="1260.1" x2="2056.7" y2="1317.3" stroke="#777" stroke-width="0.7" />
<line x1="2045.7" y1="1260.1" x2="2061.7" y2="1260.1" stroke="#9a9a9a" stroke-width="0.6" />
<line x1="2052.9" y1="1256.3" x2="2060.5" y2="1263.9" stroke="#111" stroke-width="1.7" />
<line x1="2045.7" y1="1317.3" x2="2061.7" y2="1317.3" stroke="#9a9a9a" stroke-width="0.6" />
<line x1="2052.9" y1="1313.5" x2="2060.5" y2="1321.1" stroke="#111" stroke-width="1.7" />
<text x="2054.9" y="1287.7" font-size="17" fill="#0d0d0d" text-anchor="middle" transform="rotate(-90 2054.9 1287.7)" >420</text>
<line x1="2233.2" y1="1104.4" x2="2233.2" y2="1185.2" stroke="#777" stroke-width="0.7" />
<line x1="2222.2" y1="1104.4" x2="2238.2" y2="1104.4" stroke="#9a9a9a" stroke-width="0.6" />
<line x1="2229.4" y1="1100.6" x2="2237" y2="1108.2" stroke="#111" stroke-width="1.7" />
<line x1="2222.2" y1="1185.2" x2="2238.2" y2="1185.2" stroke="#9a9a9a" stroke-width="0.6" />
<line x1="2229.4" y1="1181.4" x2="2237" y2="1189" stroke="#111" stroke-width="1.7" />
<text x="2231.4" y="1131" font-size="17" fill="#0d0d0d" text-anchor="middle" transform="rotate(-90 2231.4 1131)" >600</text>
<text x="1201.7" y="145.7" font-size="16" fill="#0d0d0d" textLength="200.4" lengthAdjust="spacingAndGlyphs" >Оздоблення відкосів вікна у</text>
<text x="1201.7" y="164.2" font-size="16" fill="#0d0d0d" textLength="167.2" lengthAdjust="spacingAndGlyphs" >колір фарбування стін</text>
<text x="1201.7" y="182.8" font-size="16" fill="#0d0d0d" textLength="142.1" lengthAdjust="spacingAndGlyphs" >RAL 1013 - 6,52 м. п.</text>
<polyline points="1201.7,186 1420,186 1441.3,233.6" fill="none" stroke="#707070" stroke-width="0.65" />
<circle cx="1441.3" cy="233.6" r="2.3" fill="#111"/>
<circle cx="1441.9" cy="233" r="0.6" fill="#ddd"/>
<text x="1651.1" y="145.7" font-size="16" fill="#0d0d0d" textLength="200.4" lengthAdjust="spacingAndGlyphs" >Оздоблення відкосів вікна у</text>
<text x="1651.1" y="164.2" font-size="16" fill="#0d0d0d" textLength="167.2" lengthAdjust="spacingAndGlyphs" >колір фарбування стін</text>
<text x="1651.1" y="182.8" font-size="16" fill="#0d0d0d" textLength="142.1" lengthAdjust="spacingAndGlyphs" >RAL 1013 - 6,52 м. п.</text>
<polyline points="1651.1,186 1868.5,186 1890.7,233.6" fill="none" stroke="#707070" stroke-width="0.65" />
<circle cx="1890.7" cy="233.6" r="2.3" fill="#111"/>
<circle cx="1891.3" cy="233" r="0.6" fill="#ddd"/>
<text x="2098" y="145.7" font-size="16" fill="#0d0d0d" textLength="200.4" lengthAdjust="spacingAndGlyphs" >Оздоблення відкосів вікна у</text>
<text x="2098" y="164.2" font-size="16" fill="#0d0d0d" textLength="167.2" lengthAdjust="spacingAndGlyphs" >колір фарбування стін</text>
<text x="2098" y="182.8" font-size="16" fill="#0d0d0d" textLength="142.1" lengthAdjust="spacingAndGlyphs" >RAL 1013 - 6,53 м. п.</text>
<polyline points="2098,186 2316.7,186 2337.6,233.6" fill="none" stroke="#707070" stroke-width="0.65" />
<circle cx="2337.6" cy="233.6" r="2.3" fill="#111"/>
<circle cx="2338.2" cy="233" r="0.6" fill="#ddd"/>
<text x="833.6" y="374.6" font-size="16" fill="#0d0d0d" textLength="213.2" lengthAdjust="spacingAndGlyphs" >ДСП Kronospan K 076 PW Дуб</text>
<text x="833.6" y="395.3" font-size="16" fill="#0d0d0d" textLength="146.3" lengthAdjust="spacingAndGlyphs" >Експресив пісочний</text>
<polyline points="833.6,399.9 1120.3,399.9" fill="none" stroke="#707070" stroke-width="0.65" />
<circle cx="1120.3" cy="399.9" r="2.3" fill="#111"/>
<circle cx="1120.9" cy="399.3" r="0.6" fill="#ddd"/>
<text x="833.6" y="479.1" font-size="16" fill="#0d0d0d" textLength="184" lengthAdjust="spacingAndGlyphs" >Гіпсові 3D панелі «CRAG»</text>
<polyline points="833.6,483.4 1114.2,483.4" fill="none" stroke="#707070" stroke-width="0.65" />
<circle cx="1114.2" cy="483.4" r="2.3" fill="#111"/>
<circle cx="1114.8" cy="482.8" r="0.6" fill="#ddd"/>
<text x="833.6" y="621.5" font-size="16" fill="#0d0d0d" textLength="213.2" lengthAdjust="spacingAndGlyphs" >ДСП Kronospan K 076 PW Дуб</text>
<text x="833.6" y="641.6" font-size="16" fill="#0d0d0d" textLength="146.3" lengthAdjust="spacingAndGlyphs" >Експресив пісочний</text>
<polyline points="833.6,646.3 1120,646.3" fill="none" stroke="#707070" stroke-width="0.65" />
<circle cx="1120" cy="646.3" r="2.3" fill="#111"/>
<circle cx="1120.6" cy="645.7" r="0.6" fill="#ddd"/>
<text x="833.6" y="719" font-size="16" fill="#0d0d0d" textLength="168.5" lengthAdjust="spacingAndGlyphs" >Фарба Flugger Dekso 5</text>
<text x="833.6" y="739" font-size="16" fill="#0d0d0d" textLength="110.5" lengthAdjust="spacingAndGlyphs" >Колір: RAL 1013</text>
<text x="833.6" y="758.7" font-size="16" fill="#0d0d0d" textLength="98.5" lengthAdjust="spacingAndGlyphs" >(за меблями)</text>
<polyline points="833.6,763.4 1109.5,763.4" fill="none" stroke="#707070" stroke-width="0.65" />
<circle cx="1109.5" cy="763.4" r="2.3" fill="#111"/>
<circle cx="1110.1" cy="762.8" r="0.6" fill="#ddd"/>
<text x="833.6" y="793.2" font-size="16" fill="#0d0d0d" textLength="172" lengthAdjust="spacingAndGlyphs" >Керамограніт Baldocer</text>
<text x="833.6" y="812.3" font-size="16" fill="#0d0d0d" textLength="202.2" lengthAdjust="spacingAndGlyphs" >Electra Almond Natural Rect</text>
<text x="833.6" y="831.9" font-size="16" fill="#0d0d0d" textLength="74" lengthAdjust="spacingAndGlyphs" >60x120 см</text>
<text x="833.6" y="851.5" font-size="16" fill="#0d0d0d" textLength="212.4" lengthAdjust="spacingAndGlyphs" >Розмір: 1 200 × 600 × h 10 мм</text>
<polyline points="833.6,855.9 1135.4,855.9" fill="none" stroke="#707070" stroke-width="0.65" />
<circle cx="1135.4" cy="855.9" r="2.3" fill="#111"/>
<circle cx="1136" cy="855.3" r="0.6" fill="#ddd"/>
<text x="833.6" y="875.5" font-size="16" fill="#0d0d0d" textLength="158.9" lengthAdjust="spacingAndGlyphs" >Керамограніт Almera</text>
<text x="833.6" y="895" font-size="16" fill="#0d0d0d" textLength="216.4" lengthAdjust="spacingAndGlyphs" >Ceramica (Spain) P.E. Northon</text>
<text x="833.6" y="914.7" font-size="16" fill="#0d0d0d" textLength="197.5" lengthAdjust="spacingAndGlyphs" >Almond Mt Rect. 60x120 см</text>
<text x="833.6" y="934.1" font-size="16" fill="#0d0d0d" textLength="200.2" lengthAdjust="spacingAndGlyphs" >Розмір: 1 200 × 600 × 10 мм</text>
<polyline points="833.6,939.6 1116.6,939.6" fill="none" stroke="#707070" stroke-width="0.65" />
<circle cx="1116.6" cy="939.6" r="2.3" fill="#111"/>
<circle cx="1117.2" cy="939" r="0.6" fill="#ddd"/>
<text x="833.6" y="1050.4" font-size="16" fill="#0d0d0d" textLength="172" lengthAdjust="spacingAndGlyphs" >Керамограніт Baldocer</text>
<text x="833.6" y="1070.8" font-size="16" fill="#0d0d0d" textLength="202.2" lengthAdjust="spacingAndGlyphs" >Electra Almond Natural Rect</text>
<text x="833.6" y="1090.3" font-size="16" fill="#0d0d0d" textLength="132.7" lengthAdjust="spacingAndGlyphs" >h<tspan font-size="9.5" dy="4" style="stroke-width:0">низу</tspan><tspan dy="-4">=0, h</tspan><tspan font-size="9.5" dy="4" style="stroke-width:0">верху</tspan><tspan dy="-4">=1200</tspan></text>
<polyline points="833.6,1094.8 1274.7,1094.8 1274.7,1185.2" fill="none" stroke="#707070" stroke-width="0.65" />
<circle cx="1274.4" cy="1185.2" r="2.3" fill="#111"/>
<circle cx="1275" cy="1184.6" r="0.6" fill="#ddd"/>
<text x="833.6" y="1112.6" font-size="16" fill="#0d0d0d" textLength="158.9" lengthAdjust="spacingAndGlyphs" >Керамограніт Almera</text>
<text x="833.6" y="1132.2" font-size="16" fill="#0d0d0d" textLength="216.4" lengthAdjust="spacingAndGlyphs" >Ceramica (Spain) P.E. Northon</text>
<text x="833.6" y="1151.8" font-size="16" fill="#0d0d0d" textLength="197.5" lengthAdjust="spacingAndGlyphs" >Almond Mt Rect. 60x120 см</text>
<text x="833.6" y="1171.9" font-size="16" fill="#0d0d0d" textLength="200.2" lengthAdjust="spacingAndGlyphs" >Розмір: 1 200 × 600 × 10 мм</text>
<text x="833.6" y="1191.5" font-size="16" fill="#0d0d0d" textLength="174.5" lengthAdjust="spacingAndGlyphs" >h<tspan font-size="9.5" dy="4" style="stroke-width:0">низу</tspan><tspan dy="-4">=400, h</tspan><tspan font-size="9.5" dy="4" style="stroke-width:0">верху</tspan><tspan dy="-4">=до стелі</tspan></text>
<polyline points="833.6,1195.4 1116.6,1195.4" fill="none" stroke="#707070" stroke-width="0.65" />
<circle cx="1116.6" cy="1195.4" r="2.3" fill="#111"/>
<circle cx="1117.2" cy="1194.8" r="0.6" fill="#ddd"/>
<text x="833.6" y="1224.4" font-size="16" fill="#0d0d0d" textLength="172" lengthAdjust="spacingAndGlyphs" >Керамограніт Baldocer</text>
<text x="833.6" y="1243.7" font-size="16" fill="#0d0d0d" textLength="202.2" lengthAdjust="spacingAndGlyphs" >Electra Almond Natural Rect</text>
<text x="833.6" y="1263.3" font-size="16" fill="#0d0d0d" textLength="74" lengthAdjust="spacingAndGlyphs" >60x120 см</text>
<text x="833.6" y="1283.2" font-size="16" fill="#0d0d0d" textLength="212.4" lengthAdjust="spacingAndGlyphs" >Розмір: 1 200 × 600 × h 10 мм</text>
<text x="833.6" y="1302.8" font-size="16" fill="#0d0d0d" textLength="174.5" lengthAdjust="spacingAndGlyphs" >h<tspan font-size="9.5" dy="4" style="stroke-width:0">низу</tspan><tspan dy="-4">=400, h</tspan><tspan font-size="9.5" dy="4" style="stroke-width:0">верху</tspan><tspan dy="-4">=до стелі</tspan></text>
<polyline points="833.6,1306.2 1130.4,1306.2 1130.4,1206" fill="none" stroke="#707070" stroke-width="0.65" />
<circle cx="1130.4" cy="1206" r="2.3" fill="#111"/>
<circle cx="1131" cy="1205.4" r="0.6" fill="#ddd"/>
<text x="833.6" y="1350.4" font-size="16" fill="#0d0d0d" textLength="172" lengthAdjust="spacingAndGlyphs" >Керамограніт Baldocer</text>
<text x="833.6" y="1370.8" font-size="16" fill="#0d0d0d" textLength="202.2" lengthAdjust="spacingAndGlyphs" >Electra Almond Natural Rect</text>
<text x="833.6" y="1390.3" font-size="16" fill="#0d0d0d" textLength="182.4" lengthAdjust="spacingAndGlyphs" >h<tspan font-size="9.5" dy="4" style="stroke-width:0">низу</tspan><tspan dy="-4">=1200, h</tspan><tspan font-size="9.5" dy="4" style="stroke-width:0">верху</tspan><tspan dy="-4">=до стелі</tspan></text>
<polyline points="833.6,1394.3 1274.7,1394.3 1274.7,1242.7" fill="none" stroke="#707070" stroke-width="0.65" />
<circle cx="1274.7" cy="1242.7" r="2.3" fill="#111"/>
<circle cx="1275.3" cy="1242.1" r="0.6" fill="#ddd"/>
<text x="833.6" y="1416.5" font-size="16" fill="#0d0d0d" textLength="317" lengthAdjust="spacingAndGlyphs" >Керамограніт Almera Ceramica (Spain) P.E.</text>
<text x="833.6" y="1437.4" font-size="16" fill="#0d0d0d" textLength="181" lengthAdjust="spacingAndGlyphs" >Northon Almond Mt Rect.</text>
<text x="833.6" y="1456.5" font-size="16" fill="#0d0d0d" textLength="182.4" lengthAdjust="spacingAndGlyphs" >h<tspan font-size="9.5" dy="4" style="stroke-width:0">низу</tspan><tspan dy="-4">=1200, h</tspan><tspan font-size="9.5" dy="4" style="stroke-width:0">верху</tspan><tspan dy="-4">=до стелі</tspan></text>
<polyline points="833.6,1460.4 1330,1460.4 1330,1224.4" fill="none" stroke="#707070" stroke-width="0.65" />
<circle cx="1330" cy="1224.4" r="2.3" fill="#111"/>
<circle cx="1330.6" cy="1223.8" r="0.6" fill="#ddd"/>
<text x="1209.9" y="484" font-size="16" fill="#0d0d0d" textLength="197.1" lengthAdjust="spacingAndGlyphs" >Флізелін безфактурний під</text>
<text x="1209.9" y="503.6" font-size="16" fill="#0d0d0d" textLength="93.6" lengthAdjust="spacingAndGlyphs" >фарбування</text>
<text x="1209.9" y="522.8" font-size="16" fill="#0d0d0d" textLength="168.5" lengthAdjust="spacingAndGlyphs" >Фарба Flugger Dekso 5</text>
<text x="1209.9" y="542.4" font-size="16" fill="#0d0d0d" textLength="110.5" lengthAdjust="spacingAndGlyphs" >Колір: RAL 1013</text>
<polyline points="1209.3,547.8 1493,547.8" fill="none" stroke="#707070" stroke-width="0.65" />
<circle cx="1493" cy="547.8" r="2.3" fill="#111"/>
<circle cx="1493.6" cy="547.2" r="0.6" fill="#ddd"/>
<text x="1647.7" y="324.3" font-size="16" fill="#0d0d0d" textLength="172.5" lengthAdjust="spacingAndGlyphs" >Флізелін безфактурний</text>
<text x="1647.7" y="344.2" font-size="16" fill="#0d0d0d" textLength="118.9" lengthAdjust="spacingAndGlyphs" >під фарбування</text>
<text x="1647.7" y="363.5" font-size="16" fill="#0d0d0d" textLength="168.5" lengthAdjust="spacingAndGlyphs" >Фарба Flugger Dekso 5</text>
<text x="1647.7" y="383.4" font-size="16" fill="#0d0d0d" textLength="110.5" lengthAdjust="spacingAndGlyphs" >Колір: RAL 1013</text>
<polyline points="1647.7,387.8 1855.5,387.8 1855.5,252.5" fill="none" stroke="#707070" stroke-width="0.65" />
<circle cx="1855.5" cy="252.5" r="2.3" fill="#111"/>
<circle cx="1856.1" cy="251.9" r="0.6" fill="#ddd"/>
<text x="1647.8" y="545.7" font-size="16" fill="#0d0d0d" textLength="172.5" lengthAdjust="spacingAndGlyphs" >Флізелін безфактурний</text>
<text x="1647.8" y="565.3" font-size="16" fill="#0d0d0d" textLength="118.9" lengthAdjust="spacingAndGlyphs" >під фарбування</text>
<text x="1647.8" y="584.9" font-size="16" fill="#0d0d0d" textLength="168.5" lengthAdjust="spacingAndGlyphs" >Фарба Flugger Dekso 5</text>
<text x="1647.8" y="604.5" font-size="16" fill="#0d0d0d" textLength="110.5" lengthAdjust="spacingAndGlyphs" >Колір: RAL 1013</text>
<polyline points="1541.2,609.2 1909.7,609.2" fill="none" stroke="#707070" stroke-width="0.65" />
<circle cx="1541.2" cy="609.2" r="2.3" fill="#111"/>
<circle cx="1541.8" cy="608.6" r="0.6" fill="#ddd"/>
<circle cx="1909.7" cy="609.2" r="2.3" fill="#111"/>
<circle cx="1910.3" cy="608.6" r="0.6" fill="#ddd"/>
<text x="1647.4" y="692" font-size="16" fill="#0d0d0d" textLength="180.3" lengthAdjust="spacingAndGlyphs" >ДСП Kronospan K 076 PW</text>
<text x="1647.4" y="712.2" font-size="16" fill="#0d0d0d" textLength="179" lengthAdjust="spacingAndGlyphs" >Дуб Експресив пісочний</text>
<text x="1647.4" y="732" font-size="16" fill="#0d0d0d" textLength="124.9" lengthAdjust="spacingAndGlyphs" >h<tspan font-size="9.5" dy="4" style="stroke-width:0">низу</tspan><tspan dy="-4">=0, h</tspan><tspan font-size="9.5" dy="4" style="stroke-width:0">верху</tspan><tspan dy="-4">=800</tspan></text>
<polyline points="1647,735.2 1896,735.2" fill="none" stroke="#707070" stroke-width="0.65" />
<circle cx="1896" cy="735.2" r="2.3" fill="#111"/>
<circle cx="1896.6" cy="734.6" r="0.6" fill="#ddd"/>
<text x="1851.7" y="810.4" font-size="16" fill="#0d0d0d" text-anchor="end" textLength="147.6" lengthAdjust="spacingAndGlyphs" >Оздоблення відкосів</text>
<text x="1851.7" y="829.2" font-size="16" fill="#0d0d0d" text-anchor="end" textLength="92.2" lengthAdjust="spacingAndGlyphs" >двері у колір</text>
<text x="1851.7" y="848" font-size="16" fill="#0d0d0d" text-anchor="end" textLength="125.4" lengthAdjust="spacingAndGlyphs" >фарбування стін</text>
<text x="1851.7" y="866.6" font-size="16" fill="#0d0d0d" text-anchor="end" textLength="142.4" lengthAdjust="spacingAndGlyphs" >RAL 1013 - 4,80 м. п.</text>
<polyline points="1851.7,869.2 1670.6,869.2 1670.6,975.4" fill="none" stroke="#707070" stroke-width="0.65" />
<circle cx="1670.6" cy="975.4" r="2.3" fill="#111"/>
<circle cx="1671.2" cy="974.8" r="0.6" fill="#ddd"/>
<text x="1251.7" y="715.6" font-size="16" fill="#0d0d0d" textLength="147.6" lengthAdjust="spacingAndGlyphs" >Оздоблення відкосів</text>
<text x="1251.7" y="733.9" font-size="16" fill="#0d0d0d" textLength="92.2" lengthAdjust="spacingAndGlyphs" >двері у колір</text>
<text x="1251.7" y="752.2" font-size="16" fill="#0d0d0d" textLength="125.4" lengthAdjust="spacingAndGlyphs" >фарбування стін</text>
<text x="1251.7" y="770.4" font-size="16" fill="#0d0d0d" textLength="142.4" lengthAdjust="spacingAndGlyphs" >RAL 1013 - 4,80 м. п.</text>
<polyline points="1251.7,773.8 1432.3,773.8 1432.3,975.4" fill="none" stroke="#707070" stroke-width="0.65" />
<circle cx="1432.3" cy="975.4" r="2.3" fill="#111"/>
<circle cx="1432.9" cy="974.8" r="0.6" fill="#ddd"/>
<text x="1153.9" y="946.6" font-size="16" fill="#0d0d0d" textLength="88.6" lengthAdjust="spacingAndGlyphs" >Оздоблення</text>
<text x="1153.9" y="966.2" font-size="16" fill="#0d0d0d" textLength="97.2" lengthAdjust="spacingAndGlyphs" >відкосів двері</text>
<text x="1153.9" y="985.8" font-size="16" fill="#0d0d0d" textLength="102.4" lengthAdjust="spacingAndGlyphs" >Керамограніт</text>
<text x="1153.9" y="1005.4" font-size="16" fill="#0d0d0d" textLength="127.3" lengthAdjust="spacingAndGlyphs" >Almera Ceramica</text>
<text x="1153.9" y="1025" font-size="16" fill="#0d0d0d" textLength="77" lengthAdjust="spacingAndGlyphs" >(Spain) P.E.</text>
<text x="1153.9" y="1044.6" font-size="16" fill="#0d0d0d" textLength="117.3" lengthAdjust="spacingAndGlyphs" >Northon Almond</text>
<text x="1153.9" y="1064.2" font-size="16" fill="#0d0d0d" textLength="122.8" lengthAdjust="spacingAndGlyphs" >Mt Rect. - 0,47 м<tspan font-size="9.5" dy="-6">2</tspan></text>
<polyline points="1153.9,1067.6 1344.7,1067.6" fill="none" stroke="#707070" stroke-width="0.65" />
<circle cx="1344.7" cy="1067.6" r="2.3" fill="#111"/>
<circle cx="1345.3" cy="1067" r="0.6" fill="#ddd"/>
<text x="1531" y="1078.6" font-size="16" fill="#0d0d0d" textLength="197.1" lengthAdjust="spacingAndGlyphs" >Флізелін безфактурний під</text>
<text x="1531" y="1098.2" font-size="16" fill="#0d0d0d" textLength="93.6" lengthAdjust="spacingAndGlyphs" >фарбування</text>
<text x="1531" y="1117.8" font-size="16" fill="#0d0d0d" textLength="168.5" lengthAdjust="spacingAndGlyphs" >Фарба Flugger Dekso 5</text>
<text x="1531" y="1137.4" font-size="16" fill="#0d0d0d" textLength="110.5" lengthAdjust="spacingAndGlyphs" >Колір: RAL 1013</text>
<polyline points="1531,1142.1 1924.8,1142.1" fill="none" stroke="#707070" stroke-width="0.65" />
<circle cx="1924.8" cy="1142.1" r="2.3" fill="#111"/>
<circle cx="1925.4" cy="1141.5" r="0.6" fill="#ddd"/>
<polyline points="1785.8,1142.1 1885.6,992.9" fill="none" stroke="#707070" stroke-width="0.65" />
<circle cx="1885.6" cy="992.9" r="2.3" fill="#111"/>
<circle cx="1886.2" cy="992.3" r="0.6" fill="#ddd"/>
<text x="1702.2" y="1187.8" font-size="16" fill="#0d0d0d" textLength="147.6" lengthAdjust="spacingAndGlyphs" >Оздоблення відкосів</text>
<text x="1702.2" y="1206.6" font-size="16" fill="#0d0d0d" textLength="92.2" lengthAdjust="spacingAndGlyphs" >двері у колір</text>
<text x="1702.2" y="1225.4" font-size="16" fill="#0d0d0d" textLength="125.4" lengthAdjust="spacingAndGlyphs" >фарбування стін</text>
<text x="1702.2" y="1244" font-size="16" fill="#0d0d0d" textLength="142.4" lengthAdjust="spacingAndGlyphs" >RAL 1013 - 4,80 м. п.</text>
<polyline points="1702.2,1247.1 1939.7,1247.1" fill="none" stroke="#707070" stroke-width="0.65" />
<circle cx="1939.7" cy="1247.1" r="2.3" fill="#111"/>
<circle cx="1940.3" cy="1246.5" r="0.6" fill="#ddd"/>
<text x="2072.7" y="356.5" font-size="16" fill="#0d0d0d" textLength="213.2" lengthAdjust="spacingAndGlyphs" >ДСП Kronospan K 076 PW Дуб</text>
<text x="2072.7" y="377.4" font-size="16" fill="#0d0d0d" textLength="146.3" lengthAdjust="spacingAndGlyphs" >Експресив пісочний</text>
<polyline points="2072.7,382.6 2367.1,382.6" fill="none" stroke="#707070" stroke-width="0.65" />
<circle cx="2367.1" cy="382.6" r="2.3" fill="#111"/>
<circle cx="2367.7" cy="382" r="0.6" fill="#ddd"/>
<text x="2072.7" y="423.1" font-size="16" fill="#0d0d0d" textLength="184" lengthAdjust="spacingAndGlyphs" >Гіпсові 3D панелі «CRAG»</text>
<polyline points="2072.7,428.3 2372.9,428.3" fill="none" stroke="#707070" stroke-width="0.65" />
<circle cx="2372.9" cy="428.3" r="2.3" fill="#111"/>
<circle cx="2373.5" cy="427.7" r="0.6" fill="#ddd"/>
<text x="2072.7" y="523.5" font-size="16" fill="#0d0d0d" textLength="213.2" lengthAdjust="spacingAndGlyphs" >ДСП Kronospan K 076 PW Дуб</text>
<text x="2072.7" y="544.4" font-size="16" fill="#0d0d0d" textLength="146.3" lengthAdjust="spacingAndGlyphs" >Експресив пісочний</text>
<polyline points="2072.7,548.9 2367.2,548.9" fill="none" stroke="#707070" stroke-width="0.65" />
<circle cx="2367.2" cy="548.9" r="2.3" fill="#111"/>
<circle cx="2367.8" cy="548.3" r="0.6" fill="#ddd"/>
<text x="2072.7" y="585.7" font-size="16" fill="#0d0d0d" textLength="184" lengthAdjust="spacingAndGlyphs" >Гіпсові 3D панелі «CRAG»</text>
<polyline points="2072.7,590.1 2373,590.1" fill="none" stroke="#707070" stroke-width="0.65" />
<circle cx="2373" cy="590.1" r="2.3" fill="#111"/>
<circle cx="2373.6" cy="589.5" r="0.6" fill="#ddd"/>
<text x="2072.7" y="624.1" font-size="16" fill="#0d0d0d" textLength="213.2" lengthAdjust="spacingAndGlyphs" >ДСП Kronospan K 076 PW Дуб</text>
<text x="2072.7" y="644.5" font-size="16" fill="#0d0d0d" textLength="146.3" lengthAdjust="spacingAndGlyphs" >Експресив пісочний</text>
<polyline points="2072.7,649.5 2367.2,649.5" fill="none" stroke="#707070" stroke-width="0.65" />
<circle cx="2367.2" cy="649.5" r="2.3" fill="#111"/>
<circle cx="2367.8" cy="648.9" r="0.6" fill="#ddd"/>
<text x="2289.4" y="679" font-size="16" fill="#0d0d0d" text-anchor="end" textLength="213.2" lengthAdjust="spacingAndGlyphs" >ДСП Kronospan K 076 PW Дуб</text>
<text x="2289.4" y="699.4" font-size="16" fill="#0d0d0d" text-anchor="end" textLength="146.3" lengthAdjust="spacingAndGlyphs" >Експресив пісочний</text>
<text x="2289.4" y="719.5" font-size="16" fill="#0d0d0d" text-anchor="end" textLength="148.7" lengthAdjust="spacingAndGlyphs" >h<tspan font-size="9.5" dy="4" style="stroke-width:0">низу</tspan><tspan dy="-4">=600, h</tspan><tspan font-size="9.5" dy="4" style="stroke-width:0">верху</tspan><tspan dy="-4">=2000</tspan></text>
<polyline points="1958.3,722.6 2289.4,722.6" fill="none" stroke="#707070" stroke-width="0.65" />
<circle cx="1958.3" cy="722.6" r="2.3" fill="#111"/>
<circle cx="1958.9" cy="722" r="0.6" fill="#ddd"/>
<text x="2289.4" y="783.5" font-size="16" fill="#0d0d0d" text-anchor="end" textLength="197.1" lengthAdjust="spacingAndGlyphs" >Флізелін безфактурний під</text>
<text x="2289.4" y="803.1" font-size="16" fill="#0d0d0d" text-anchor="end" textLength="93.6" lengthAdjust="spacingAndGlyphs" >фарбування</text>
<text x="2289.4" y="822.7" font-size="16" fill="#0d0d0d" text-anchor="end" textLength="168.5" lengthAdjust="spacingAndGlyphs" >Фарба Flugger Dekso 5</text>
<text x="2289.4" y="842.3" font-size="16" fill="#0d0d0d" text-anchor="end" textLength="110.5" lengthAdjust="spacingAndGlyphs" >Колір: RAL 1013</text>
<polyline points="1944.7,847.5 2289.4,847.5" fill="none" stroke="#707070" stroke-width="0.65" />
<circle cx="1944.7" cy="847.5" r="2.3" fill="#111"/>
<circle cx="1945.3" cy="846.9" r="0.6" fill="#ddd"/>
<text x="2072.7" y="872.4" font-size="16" fill="#0d0d0d" textLength="168.5" lengthAdjust="spacingAndGlyphs" >Фарба Flugger Dekso 5</text>
<text x="2072.7" y="892" font-size="16" fill="#0d0d0d" textLength="110.5" lengthAdjust="spacingAndGlyphs" >Колір: RAL 1013</text>
<text x="2072.7" y="912" font-size="16" fill="#0d0d0d" textLength="98.5" lengthAdjust="spacingAndGlyphs" >(за меблями)</text>
<polyline points="2072.7,916.4 2376.9,916.4" fill="none" stroke="#707070" stroke-width="0.65" />
<circle cx="2376.9" cy="916.4" r="2.3" fill="#111"/>
<circle cx="2377.5" cy="915.8" r="0.6" fill="#ddd"/>
<text x="2072.7" y="940.1" font-size="16" fill="#0d0d0d" textLength="172" lengthAdjust="spacingAndGlyphs" >Керамограніт Baldocer</text>
<text x="2072.7" y="959.7" font-size="16" fill="#0d0d0d" textLength="202.2" lengthAdjust="spacingAndGlyphs" >Electra Almond Natural Rect</text>
<text x="2072.7" y="979.3" font-size="16" fill="#0d0d0d" textLength="74" lengthAdjust="spacingAndGlyphs" >60x120 см</text>
<text x="2072.7" y="999.7" font-size="16" fill="#0d0d0d" textLength="212.4" lengthAdjust="spacingAndGlyphs" >Розмір: 1 200 × 600 × h 10 мм</text>
<text x="2072.7" y="1019.3" font-size="16" fill="#0d0d0d" textLength="148.9" lengthAdjust="spacingAndGlyphs" >h<tspan font-size="9.5" dy="4" style="stroke-width:0">низу</tspan><tspan dy="-4">=900, h</tspan><tspan font-size="9.5" dy="4" style="stroke-width:0">верху</tspan><tspan dy="-4">=1500</tspan></text>
<polyline points="2072.7,1023.2 2363.3,1023.2" fill="none" stroke="#707070" stroke-width="0.65" />
<circle cx="2363.3" cy="1023.2" r="2.3" fill="#111"/>
<circle cx="2363.9" cy="1022.6" r="0.6" fill="#ddd"/>
<text x="1660.1" y="1416.5" font-size="16" fill="#0d0d0d" text-anchor="end" textLength="168.5" lengthAdjust="spacingAndGlyphs" >Фарба Flugger Dekso 5</text>
<text x="1660.1" y="1436.1" font-size="16" fill="#0d0d0d" text-anchor="end" textLength="110.5" lengthAdjust="spacingAndGlyphs" >Колір: RAL 1013</text>
<text x="1660.1" y="1456.5" font-size="16" fill="#0d0d0d" text-anchor="end" textLength="98.5" lengthAdjust="spacingAndGlyphs" >(за меблями)</text>
<polyline points="1660.1,1460.4 1454.5,1460.4 1454.5,1242.7" fill="none" stroke="#707070" stroke-width="0.65" />
<circle cx="1454.5" cy="1242.7" r="2.3" fill="#111"/>
<circle cx="1455.1" cy="1242.1" r="0.6" fill="#ddd"/>
<text x="1948.3" y="1394.3" font-size="16" fill="#0d0d0d" text-anchor="end" textLength="218.2" lengthAdjust="spacingAndGlyphs" >Оздоблення існуючих дверей:</text>
<text x="1948.3" y="1415.2" font-size="16" fill="#0d0d0d" text-anchor="end" textLength="190.2" lengthAdjust="spacingAndGlyphs" >МДФ накладкою RAL 1013</text>
<text x="1948.3" y="1435.6" font-size="16" fill="#0d0d0d" text-anchor="end" textLength="156.8" lengthAdjust="spacingAndGlyphs" >та добором RAL 1013</text>
<text x="1948.3" y="1456.5" font-size="16" fill="#0d0d0d" text-anchor="end" textLength="88" lengthAdjust="spacingAndGlyphs" >(в колір стін)</text>
<polyline points="1948.3,1460.4 1702.7,1460.4 1702.7,1345.9" fill="none" stroke="#707070" stroke-width="0.65" />
<circle cx="1702.7" cy="1345.9" r="2.3" fill="#111"/>
<circle cx="1703.3" cy="1345.3" r="0.6" fill="#ddd"/>
<text x="2374.5" y="1416.5" font-size="16" fill="#0d0d0d" text-anchor="end" textLength="168.5" lengthAdjust="spacingAndGlyphs" style="stroke:#0d0d0d;stroke-width:.35px">Фарба Flugger Dekso 5</text>
<text x="2374.5" y="1436.1" font-size="16" fill="#0d0d0d" text-anchor="end" textLength="110.5" lengthAdjust="spacingAndGlyphs" style="stroke:#0d0d0d;stroke-width:.35px">Колір: RAL 1013</text>
<text x="2374.5" y="1456.5" font-size="16" fill="#0d0d0d" text-anchor="end" textLength="98.5" lengthAdjust="spacingAndGlyphs" style="stroke:#0d0d0d;stroke-width:.35px">(за меблями)</text>
<polyline points="2374.5,1460.4 2067.5,1460.4 2067.5,1310.4" fill="none" stroke="#707070" stroke-width="0.65" />
<circle cx="2067.5" cy="1310.4" r="2.3" fill="#111"/>
<circle cx="2068.1" cy="1309.8" r="0.6" fill="#ddd"/>
<polyline points="2168.9,1460.4 2168.9,1252.2" fill="none" stroke="#707070" stroke-width="0.65" />
<circle cx="2168.9" cy="1252.2" r="2.3" fill="#111"/>
<circle cx="2169.5" cy="1251.6" r="0.6" fill="#ddd"/>
<rect x="122" y="31" width="2408" height="1748" fill="none" stroke="#111" stroke-width="1.6" />
<text x="155.7" y="104.5" font-size="45" fill="#000" textLength="604.5" lengthAdjust="spacingAndGlyphs" class="nt">ПЛАН ОЗДОБЛЕННЯ СТІН М1:45</text>
<text x="153.3" y="173.5" font-size="21" fill="#0d0d0d" textLength="320" lengthAdjust="spacingAndGlyphs" >ВІДОМІСТЬ ОЗДОБЛЕННЯ СТІН</text>
<line x1="153" y1="178" x2="474" y2="178" stroke="#111" stroke-width="1.1" />
<rect x="584.3" y="282.9" width="89.6" height="45.7" fill="#dcd5ca" filter="url(#marble)"/>
<rect x="584.3" y="374.6" width="89.6" height="46" fill="#e8e2d8" />
<rect x="583.7" y="442.7" width="91.1" height="91.6" fill="#b4b4b4" filter="url(#rock)"/>
<rect x="583.7" y="442.7" width="91.1" height="91.6" fill="url(#vig)" />
<rect x="583.7" y="534.3" width="91.1" height="91.7" fill="#d0af8b" filter="url(#wood)"/>
<rect x="583.7" y="626" width="91.1" height="182.5" fill="#dcd9c9" />
<text x="629.2" y="663.9" font-size="15" fill="#2a2a2a" text-anchor="middle" textLength="49.5" lengthAdjust="spacingAndGlyphs" font-weight="bold">RAL 1013</text>
<text x="629.2" y="677.6" font-size="6.5" fill="#444" text-anchor="middle" textLength="30.3" lengthAdjust="spacingAndGlyphs" font-weight="bold">PERLWEISS</text>
<text x="629.2" y="689.1" font-size="6.5" fill="#444" text-anchor="middle" textLength="39.7" lengthAdjust="spacingAndGlyphs" font-weight="bold">OYSTER WHITE</text>
<text x="629.2" y="755.2" font-size="15" fill="#2a2a2a" text-anchor="middle" textLength="49.5" lengthAdjust="spacingAndGlyphs" font-weight="bold">RAL 1013</text>
<text x="629.2" y="768.9" font-size="6.5" fill="#444" text-anchor="middle" textLength="30.3" lengthAdjust="spacingAndGlyphs" font-weight="bold">PERLWEISS</text>
<text x="629.2" y="780.4" font-size="6.5" fill="#444" text-anchor="middle" textLength="39.7" lengthAdjust="spacingAndGlyphs" font-weight="bold">OYSTER WHITE</text>
<line x1="154" y1="187" x2="154" y2="808.5" stroke="#111" stroke-width="1.5" />
<line x1="189.5" y1="187" x2="189.5" y2="808.5" stroke="#111" stroke-width="1.5" />
<line x1="436.5" y1="187" x2="436.5" y2="808.5" stroke="#111" stroke-width="1.5" />
<line x1="583.7" y1="187" x2="583.7" y2="808.5" stroke="#111" stroke-width="1.5" />
<line x1="674.8" y1="187" x2="674.8" y2="808.5" stroke="#111" stroke-width="1.5" />
<line x1="766.3" y1="187" x2="766.3" y2="808.5" stroke="#111" stroke-width="1.5" />
<line x1="153.3" y1="187" x2="767" y2="187" stroke="#111" stroke-width="1.5" />
<line x1="153.3" y1="260" x2="767" y2="260" stroke="#111" stroke-width="1.5" />
<line x1="153.3" y1="351.2" x2="767" y2="351.2" stroke="#111" stroke-width="1.5" />
<line x1="153.3" y1="442.7" x2="767" y2="442.7" stroke="#111" stroke-width="1.5" />
<line x1="153.3" y1="534.3" x2="767" y2="534.3" stroke="#111" stroke-width="1.5" />
<line x1="153.3" y1="626" x2="767" y2="626" stroke="#111" stroke-width="1.5" />
<line x1="153.3" y1="717.3" x2="767" y2="717.3" stroke="#111" stroke-width="1.5" />
<line x1="153.3" y1="808.5" x2="767" y2="808.5" stroke="#111" stroke-width="1.5" />
<text x="171.8" y="228.2" font-size="21" fill="#0d0d0d" text-anchor="middle" textLength="22.6" lengthAdjust="spacingAndGlyphs" >№</text>
<text x="313" y="228.2" font-size="21" fill="#0d0d0d" text-anchor="middle" textLength="158.6" lengthAdjust="spacingAndGlyphs" >Найменування</text>
<text x="510" y="218.8" font-size="21" fill="#0d0d0d" text-anchor="middle" textLength="82.6" lengthAdjust="spacingAndGlyphs" >Умовне</text>
<text x="510" y="245.6" font-size="21" fill="#0d0d0d" text-anchor="middle" textLength="122" lengthAdjust="spacingAndGlyphs" >позначення</text>
<text x="629.2" y="228.2" font-size="21" fill="#0d0d0d" text-anchor="middle" textLength="48" lengthAdjust="spacingAndGlyphs" >Ескіз</text>
<text x="720.5" y="227.5" font-size="21" fill="#0d0d0d" text-anchor="middle" textLength="85.4" lengthAdjust="spacingAndGlyphs" >Кількість</text>
<text x="171.8" y="312.5" font-size="19" fill="#0d0d0d" text-anchor="middle" >1</text>
<text x="313" y="292" font-size="18" fill="#0d0d0d" text-anchor="middle" textLength="237.6" lengthAdjust="spacingAndGlyphs" >Керамограніт Baldocer Electra</text>
<text x="313" y="312.9" font-size="18" fill="#0d0d0d" text-anchor="middle" textLength="240.4" lengthAdjust="spacingAndGlyphs" >Almond Natural Rect 60x120 см</text>
<text x="313" y="333.8" font-size="18" fill="#0d0d0d" text-anchor="middle" textLength="224.7" lengthAdjust="spacingAndGlyphs" >Розмір: 1 200 × 600 × h 10 мм</text>
<text x="687.5" y="312.5" font-size="18" fill="#0d0d0d" >12,42 м<tspan font-size="12" dy="-7">2</tspan></text>
<rect x="446" y="292.8" width="125.8" height="24.8" fill="#84fffa" stroke="#444" stroke-width="0.8" />
<text x="171.8" y="404" font-size="19" fill="#0d0d0d" text-anchor="middle" >2</text>
<text x="313" y="372.8" font-size="18" fill="#0d0d0d" text-anchor="middle" textLength="167.2" lengthAdjust="spacingAndGlyphs" >Керамограніт Almera</text>
<text x="313" y="393.7" font-size="18" fill="#0d0d0d" text-anchor="middle" textLength="228.2" lengthAdjust="spacingAndGlyphs" >Ceramica (Spain) P.E. Northon</text>
<text x="313" y="414.6" font-size="18" fill="#0d0d0d" text-anchor="middle" textLength="209" lengthAdjust="spacingAndGlyphs" >Almond Mt Rect. 60x120 см</text>
<text x="313" y="435.5" font-size="18" fill="#0d0d0d" text-anchor="middle" textLength="210.8" lengthAdjust="spacingAndGlyphs" >Розмір: 1 200 × 600 × 10 мм</text>
<text x="687.5" y="404" font-size="18" fill="#0d0d0d" >13,40 м<tspan font-size="12" dy="-7">2</tspan></text>
<rect x="446" y="384.3" width="125.8" height="24.8" fill="#a9a9ff" stroke="#444" stroke-width="0.8" />
<text x="171.8" y="495" font-size="19" fill="#0d0d0d" text-anchor="middle" >3</text>
<text x="313" y="494.9" font-size="18" fill="#0d0d0d" text-anchor="middle" textLength="195" lengthAdjust="spacingAndGlyphs" >Гіпсові 3D панелі «CRAG»</text>
<text x="692.2" y="495" font-size="18" fill="#0d0d0d" >5,08 м<tspan font-size="12" dy="-7">2</tspan></text>
<rect x="446" y="475.7" width="125.8" height="24.8" fill="#ffaaaf" stroke="#444" stroke-width="0.8" />
<text x="171.8" y="586.6" font-size="19" fill="#0d0d0d" text-anchor="middle" >4</text>
<text x="313" y="576.8" font-size="18" fill="#0d0d0d" text-anchor="middle" textLength="226.5" lengthAdjust="spacingAndGlyphs" >ДСП Kronospan K 076 PW Дуб</text>
<text x="313" y="597.7" font-size="18" fill="#0d0d0d" text-anchor="middle" textLength="154.4" lengthAdjust="spacingAndGlyphs" >Експресив пісочний</text>
<text x="687.5" y="586.6" font-size="18" fill="#0d0d0d" >19,47 м<tspan font-size="12" dy="-7">2</tspan></text>
<rect x="446" y="567.4" width="125.8" height="24.8" fill="#c3907c" stroke="#444" stroke-width="0.8" />
<text x="171.8" y="677.8" font-size="19" fill="#0d0d0d" text-anchor="middle" >5</text>
<text x="313" y="646.5" font-size="18" fill="#0d0d0d" text-anchor="middle" textLength="208.7" lengthAdjust="spacingAndGlyphs" >Флізелін безфактурний під</text>
<text x="313" y="667.4" font-size="18" fill="#0d0d0d" text-anchor="middle" textLength="99.3" lengthAdjust="spacingAndGlyphs" >фарбування</text>
<text x="313" y="688.3" font-size="18" fill="#0d0d0d" text-anchor="middle" textLength="178.7" lengthAdjust="spacingAndGlyphs" >Фарба Flugger Dekso 5</text>
<text x="313" y="709.2" font-size="18" fill="#0d0d0d" text-anchor="middle" textLength="116.7" lengthAdjust="spacingAndGlyphs" >Колір: RAL 1013</text>
<text x="682.6" y="677.8" font-size="18" fill="#0d0d0d" >102,85 м<tspan font-size="12" dy="-7">2</tspan></text>
<rect x="446" y="656.9" width="125.8" height="24.8" fill="#ffd4a8" stroke="#444" stroke-width="0.8" />
<text x="171.8" y="769.5" font-size="19" fill="#0d0d0d" text-anchor="middle" >6</text>
<text x="313" y="748.2" font-size="18" fill="#0d0d0d" text-anchor="middle" textLength="178.7" lengthAdjust="spacingAndGlyphs" >Фарба Flugger Dekso 5</text>
<text x="313" y="769.5" font-size="18" fill="#0d0d0d" text-anchor="middle" textLength="116.7" lengthAdjust="spacingAndGlyphs" >Колір: RAL 1013</text>
<text x="313" y="790.4" font-size="18" fill="#0d0d0d" text-anchor="middle" textLength="104.5" lengthAdjust="spacingAndGlyphs" >(за меблями)</text>
<text x="687" y="769.5" font-size="18" fill="#0d0d0d" >31,36 м<tspan font-size="12" dy="-7">2</tspan></text>
<rect x="446" y="748.2" width="125.8" height="24.8" fill="#ff9850" stroke="#444" stroke-width="0.8" />
<rect x="152.3" y="1262.6" width="613.7" height="394.4" fill="none" stroke="#111" stroke-width="1.3" />
<text x="159.3" y="1290.5" font-size="22" fill="#0d0d0d" textLength="111.5" lengthAdjust="spacingAndGlyphs" >ПРИМІТКИ:</text>
<text x="159.3" y="1317.8" font-size="22" fill="#0d0d0d" textLength="487.8" lengthAdjust="spacingAndGlyphs" >1.  Вказана фактична площа оздоблення без</text>
<text x="159.3" y="1345" font-size="22" fill="#0d0d0d" textLength="210.8" lengthAdjust="spacingAndGlyphs" >урахування запасу.</text>
<text x="159.3" y="1372.3" font-size="22" fill="#0d0d0d" textLength="477.4" lengthAdjust="spacingAndGlyphs" >Остаточну кількість матеріалу визначити при</text>
<text x="159.3" y="1399.5" font-size="22" fill="#0d0d0d" textLength="517.4" lengthAdjust="spacingAndGlyphs" >замовленні з урахуванням рекомендацій щодо</text>
<text x="159.3" y="1426.8" font-size="22" fill="#0d0d0d" textLength="411.1" lengthAdjust="spacingAndGlyphs" >запасу фірми виробника матеріалу .</text>
<text x="159.3" y="1454.1" font-size="22" fill="#0d0d0d" textLength="600.4" lengthAdjust="spacingAndGlyphs" >2. Всі розміри вказано у міліметрах, якщо не вказано</text>
<text x="159.3" y="1481.3" font-size="22" fill="#0d0d0d" textLength="56.4" lengthAdjust="spacingAndGlyphs" >інше.</text>
<text x="159.3" y="1508.6" font-size="22" fill="#0d0d0d" textLength="19.4" lengthAdjust="spacingAndGlyphs" >3.</text>
<text x="207.7" y="1508.6" font-size="22" fill="#0d0d0d" textLength="32.4" lengthAdjust="spacingAndGlyphs" >Всі</text>
<text x="269" y="1508.6" font-size="22" fill="#0d0d0d" textLength="119.5" lengthAdjust="spacingAndGlyphs" >підрядники</text>
<text x="417.5" y="1508.6" font-size="22" fill="#0d0d0d" textLength="82" lengthAdjust="spacingAndGlyphs" >повинні</text>
<text x="528.4" y="1508.6" font-size="22" fill="#0d0d0d" textLength="118.8" lengthAdjust="spacingAndGlyphs" >перевірити</text>
<text x="676.1" y="1508.6" font-size="22" fill="#0d0d0d" textLength="83.6" lengthAdjust="spacingAndGlyphs" >розміри</text>
<text x="159.3" y="1535.8" font-size="22" fill="#0d0d0d" textLength="530.7" lengthAdjust="spacingAndGlyphs" >безпосередньо на об'єкті перед початком робіт.</text>
<text x="159.3" y="1563.1" font-size="22" fill="#0d0d0d" textLength="600.4" lengthAdjust="spacingAndGlyphs" >4. Про будь які припущення та розбіжності повідомити</text>
<text x="159.3" y="1590.4" font-size="22" fill="#0d0d0d" textLength="133.4" lengthAdjust="spacingAndGlyphs" >архітектора.</text>
<text x="159.3" y="1617.6" font-size="22" fill="#0d0d0d" textLength="19.4" lengthAdjust="spacingAndGlyphs" >5.</text>
<text x="194.5" y="1617.6" font-size="22" fill="#0d0d0d" textLength="27.1" lengthAdjust="spacingAndGlyphs" >За</text>
<text x="237.3" y="1617.6" font-size="22" fill="#0d0d0d" textLength="77.3" lengthAdjust="spacingAndGlyphs" >умовну</text>
<text x="330.4" y="1617.6" font-size="22" fill="#0d0d0d" textLength="85.2" lengthAdjust="spacingAndGlyphs" >відмітку</text>
<text x="431.3" y="1617.6" font-size="22" fill="#0d0d0d" textLength="58.4" lengthAdjust="spacingAndGlyphs" >0.000</text>
<text x="505.4" y="1617.6" font-size="22" fill="#0d0d0d" textLength="87.8" lengthAdjust="spacingAndGlyphs" >прийнят</text>
<text x="609" y="1617.6" font-size="22" fill="#0d0d0d" textLength="68.3" lengthAdjust="spacingAndGlyphs" >рівень</text>
<text x="693" y="1617.6" font-size="22" fill="#0d0d0d" textLength="66.7" lengthAdjust="spacingAndGlyphs" >чистої</text>
<text x="159.3" y="1644.9" font-size="22" fill="#0d0d0d" textLength="81.9" lengthAdjust="spacingAndGlyphs" >підлоги.</text>
<line x1="159" y1="1295" x2="270.8" y2="1295" stroke="#111" stroke-width="1.1" />
<line x1="122" y1="1687.2" x2="2530" y2="1687.2" stroke="#111" stroke-width="1.5" />
<line x1="646.4" y1="1718.3" x2="2014.5" y2="1718.3" stroke="#111" stroke-width="1.3" />
<line x1="646.4" y1="1687.2" x2="646.4" y2="1779" stroke="#111" stroke-width="1.3" />
<line x1="1170" y1="1687.2" x2="1170" y2="1779" stroke="#111" stroke-width="1.3" />
<line x1="1694" y1="1687.2" x2="1694" y2="1779" stroke="#111" stroke-width="1.3" />
<line x1="1831.5" y1="1687.2" x2="1831.5" y2="1779" stroke="#111" stroke-width="1.3" />
<line x1="1923" y1="1687.2" x2="1923" y2="1779" stroke="#111" stroke-width="1.3" />
<line x1="2014.5" y1="1687.2" x2="2014.5" y2="1779" stroke="#111" stroke-width="1.3" />
<text x="908.2" y="1709.8" font-size="19.5" fill="#0d0d0d" text-anchor="middle" textLength="105.9" lengthAdjust="spacingAndGlyphs" >Замовник</text>
<text x="1432" y="1709.8" font-size="19.5" fill="#0d0d0d" text-anchor="middle" textLength="67" lengthAdjust="spacingAndGlyphs" >Стадія</text>
<text x="1432" y="1756.3" font-size="19" fill="#0d0d0d" text-anchor="middle" textLength="240" lengthAdjust="spacingAndGlyphs" >ПЛАН ОЗДОБЛЕННЯ СТІН</text>
<text x="1762.7" y="1710.5" font-size="19.5" fill="#0d0d0d" text-anchor="middle" textLength="104.6" lengthAdjust="spacingAndGlyphs" >Масштаб</text>
<text x="1877.2" y="1710.5" font-size="19.5" fill="#0d0d0d" text-anchor="middle" textLength="71.8" lengthAdjust="spacingAndGlyphs" >Аркуш</text>
<text x="1968.7" y="1710.5" font-size="19.5" fill="#0d0d0d" text-anchor="middle" textLength="86.9" lengthAdjust="spacingAndGlyphs" >Аркушів</text>
<text x="1762.7" y="1757" font-size="19.5" fill="#0d0d0d" text-anchor="middle" textLength="39.4" lengthAdjust="spacingAndGlyphs" >1:45</text>
<text x="1877.2" y="1757" font-size="19.5" fill="#0d0d0d" text-anchor="middle" textLength="22.7" lengthAdjust="spacingAndGlyphs" >29</text>
<text x="1968.7" y="1757" font-size="19.5" fill="#0d0d0d" text-anchor="middle" textLength="22.7" lengthAdjust="spacingAndGlyphs" >45</text>
<text x="2019.5" y="1734.8" font-size="57" fill="#000" textLength="504" lengthAdjust="spacingAndGlyphs" font-weight="bold" class="nt">BORISSTUDIO</text>
<rect x="2020" y="1743" width="503" height="29" fill="#000" stroke="#888" stroke-width="1" />
<text x="2271.6" y="1765.1" font-size="16" fill="#fff" text-anchor="middle" textLength="330.5" lengthAdjust="spacingAndGlyphs" class="nt">ПЕРШИЙ КРОК ДО МРІЇ</text>
</svg>
</body></html>
